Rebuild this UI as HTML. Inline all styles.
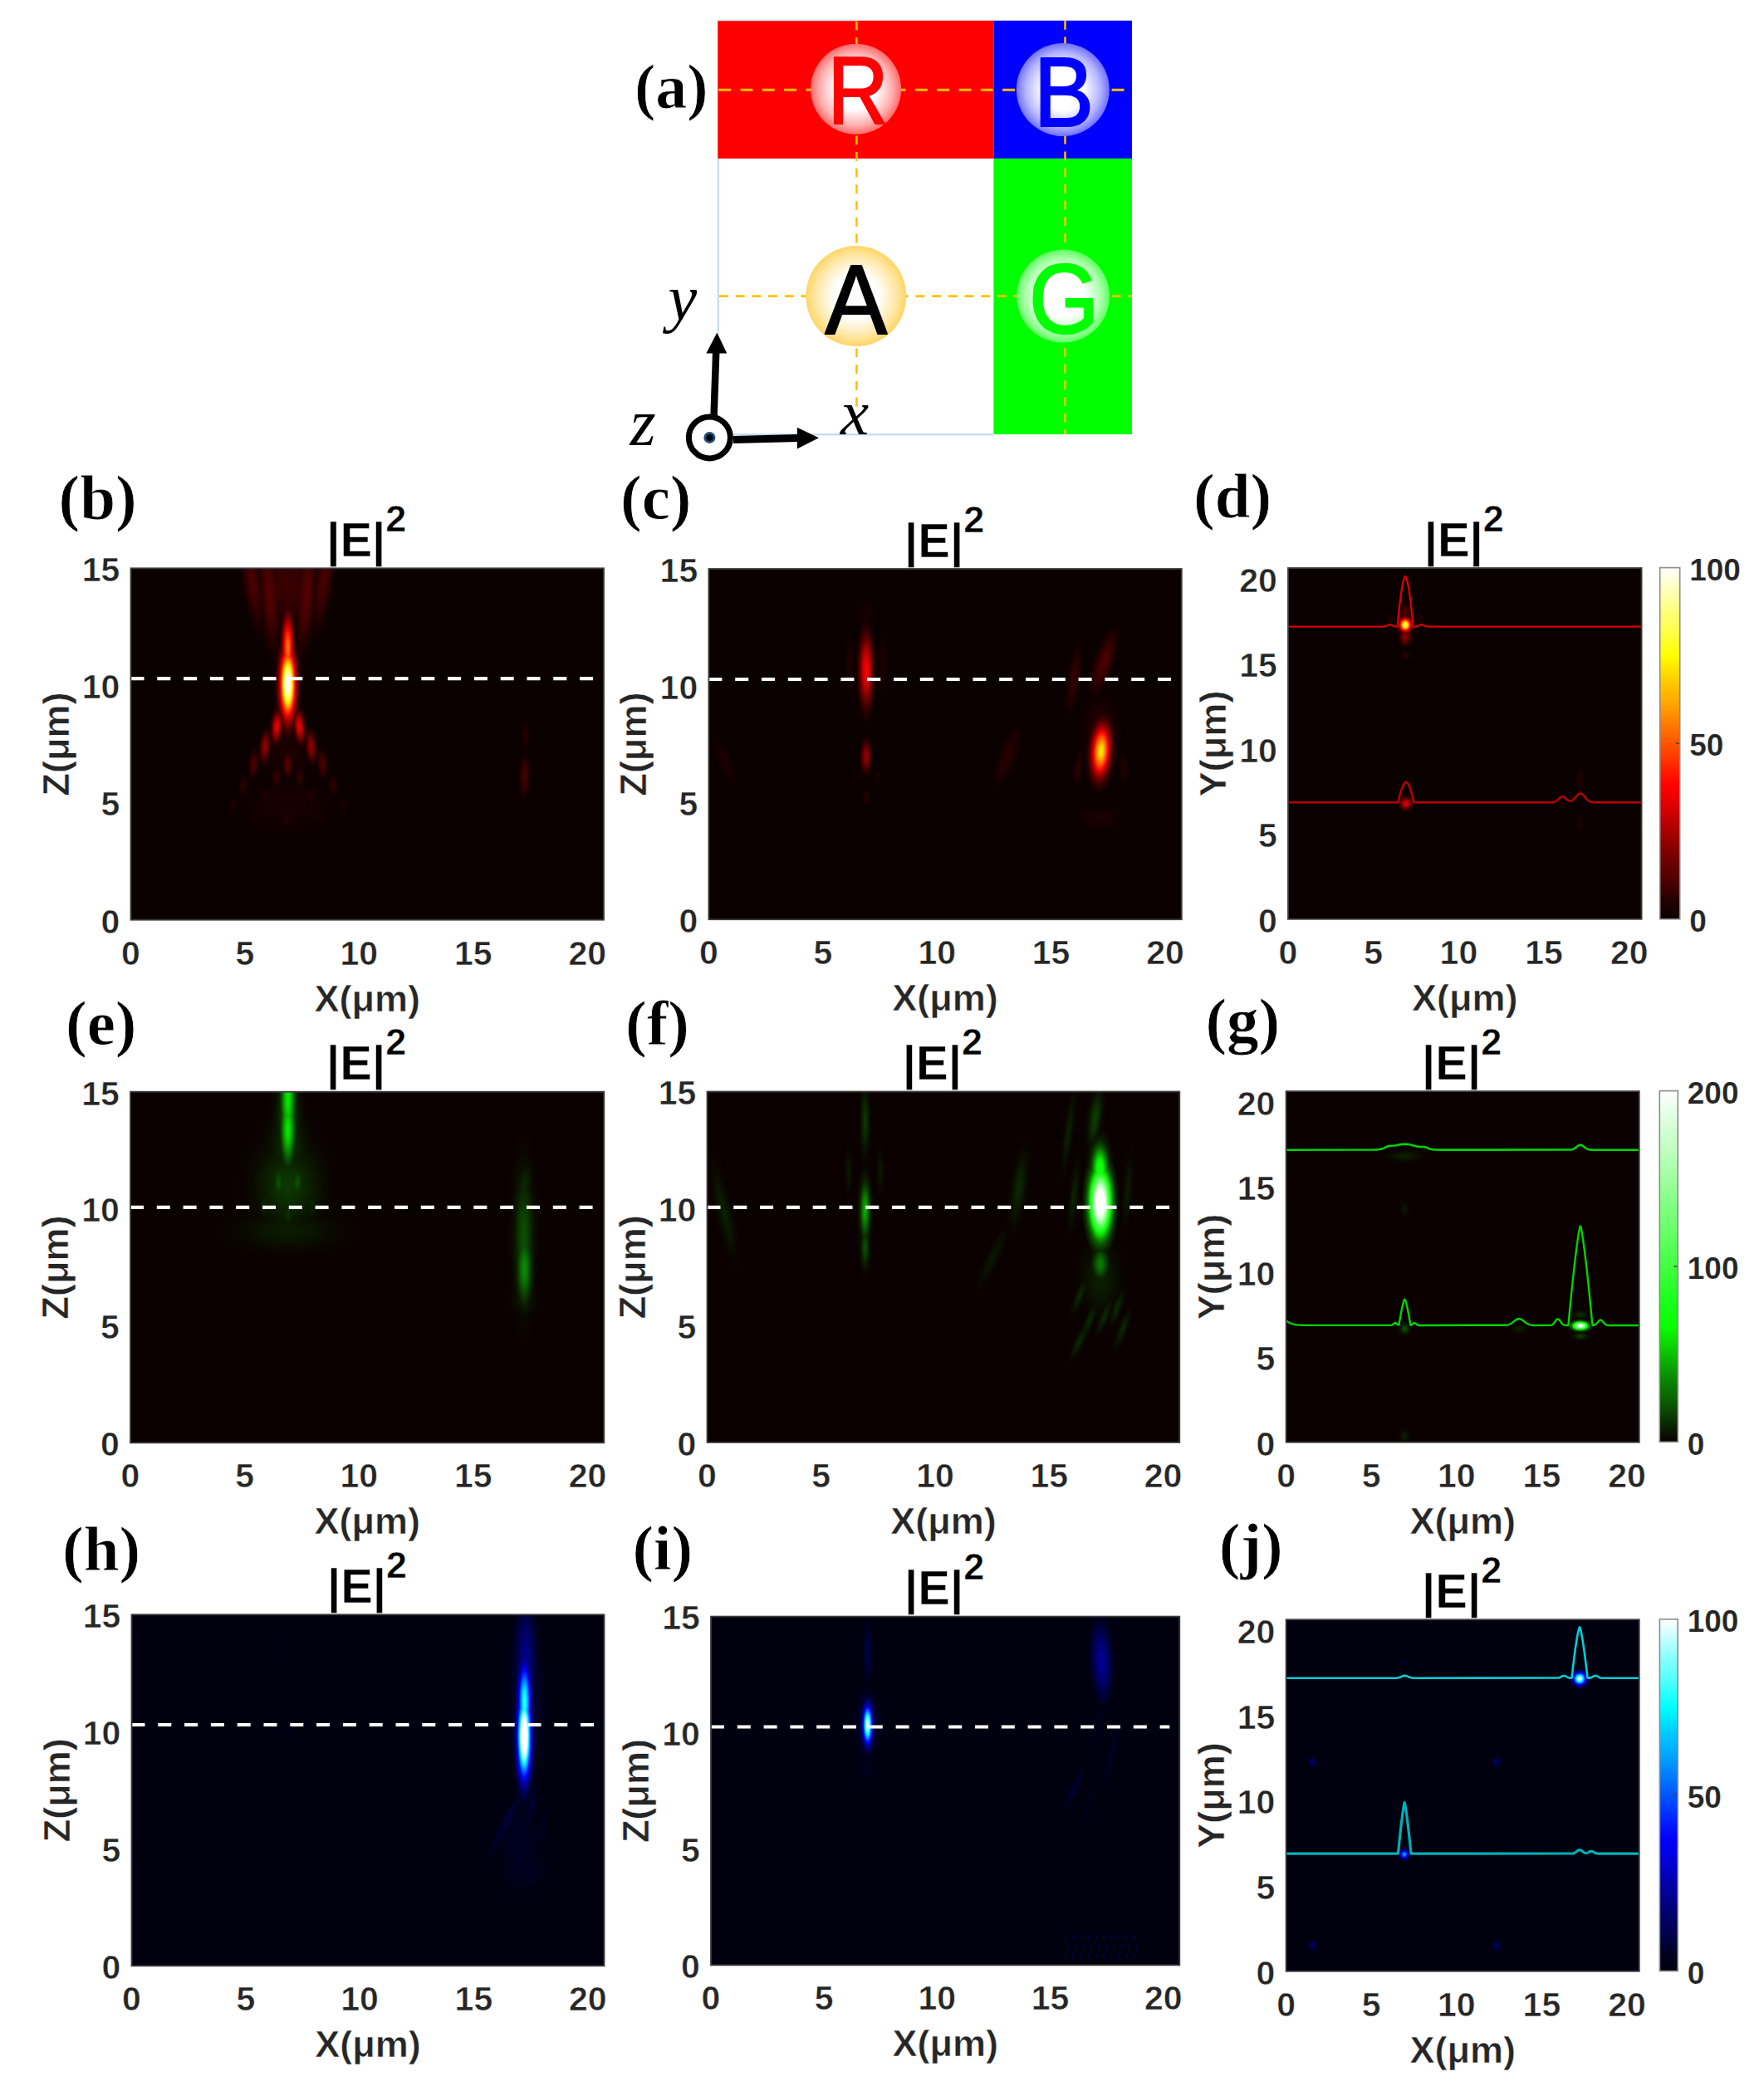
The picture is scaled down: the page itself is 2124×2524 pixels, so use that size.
<!DOCTYPE html>
<html lang="en"><head><meta charset="utf-8"><title>Figure</title>
<style>html,body{margin:0;padding:0;background:#fff}svg{display:block}.b{mix-blend-mode:lighten}</style></head>
<body><svg width="2124" height="2524" viewBox="0 0 2124 2524">
<rect width="2124" height="2524" fill="#fff"/>
<defs><radialGradient id="dR"><stop offset="0" stop-color="#fff"/><stop offset="0.45" stop-color="#fff"/><stop offset="0.8" stop-color="#ffb0b0"/><stop offset="1" stop-color="#ff6a6a"/></radialGradient>
<radialGradient id="dB"><stop offset="0" stop-color="#fff"/><stop offset="0.45" stop-color="#fff"/><stop offset="0.8" stop-color="#b4b4ff"/><stop offset="1" stop-color="#7070ff"/></radialGradient>
<radialGradient id="dG"><stop offset="0" stop-color="#fff"/><stop offset="0.45" stop-color="#fff"/><stop offset="0.8" stop-color="#b0ffb0"/><stop offset="1" stop-color="#60ff60"/></radialGradient>
<radialGradient id="dA"><stop offset="0" stop-color="#fff"/><stop offset="0.45" stop-color="#fff"/><stop offset="0.8" stop-color="#ffe7a6"/><stop offset="1" stop-color="#ffd566"/></radialGradient>
<radialGradient id="g1"><stop offset="0" stop-color="#3a0000"/><stop offset="0.07" stop-color="#380000"/><stop offset="0.14" stop-color="#350000"/><stop offset="0.21" stop-color="#2f0000"/><stop offset="0.29" stop-color="#280000"/><stop offset="0.36" stop-color="#210000"/><stop offset="0.43" stop-color="#190000"/><stop offset="0.5" stop-color="#130000"/><stop offset="0.57" stop-color="#0d0000"/><stop offset="0.64" stop-color="#0b0000"/><stop offset="0.71" stop-color="#0b0000"/><stop offset="0.79" stop-color="#0b0000"/><stop offset="0.86" stop-color="#0b0000"/><stop offset="0.93" stop-color="#0b0000"/><stop offset="1" stop-color="#0b0000"/></radialGradient>
<radialGradient id="g2"><stop offset="0" stop-color="#470000"/><stop offset="0.07" stop-color="#460000"/><stop offset="0.14" stop-color="#410000"/><stop offset="0.21" stop-color="#3a0000"/><stop offset="0.29" stop-color="#310000"/><stop offset="0.36" stop-color="#280000"/><stop offset="0.43" stop-color="#1f0000"/><stop offset="0.5" stop-color="#170000"/><stop offset="0.57" stop-color="#100000"/><stop offset="0.64" stop-color="#0b0000"/><stop offset="0.71" stop-color="#0b0000"/><stop offset="0.79" stop-color="#0b0000"/><stop offset="0.86" stop-color="#0b0000"/><stop offset="0.93" stop-color="#0b0000"/><stop offset="1" stop-color="#0b0000"/></radialGradient>
<radialGradient id="g3"><stop offset="0" stop-color="#550000"/><stop offset="0.07" stop-color="#530000"/><stop offset="0.14" stop-color="#4e0000"/><stop offset="0.21" stop-color="#450000"/><stop offset="0.29" stop-color="#3b0000"/><stop offset="0.36" stop-color="#300000"/><stop offset="0.43" stop-color="#250000"/><stop offset="0.5" stop-color="#1c0000"/><stop offset="0.57" stop-color="#140000"/><stop offset="0.64" stop-color="#0d0000"/><stop offset="0.71" stop-color="#0b0000"/><stop offset="0.79" stop-color="#0b0000"/><stop offset="0.86" stop-color="#0b0000"/><stop offset="0.93" stop-color="#0b0000"/><stop offset="1" stop-color="#0b0000"/></radialGradient>
<radialGradient id="g4"><stop offset="0" stop-color="#180000"/><stop offset="0.07" stop-color="#170000"/><stop offset="0.14" stop-color="#160000"/><stop offset="0.21" stop-color="#130000"/><stop offset="0.29" stop-color="#100000"/><stop offset="0.36" stop-color="#0d0000"/><stop offset="0.43" stop-color="#0b0000"/><stop offset="0.5" stop-color="#0b0000"/><stop offset="0.57" stop-color="#0b0000"/><stop offset="0.64" stop-color="#0b0000"/><stop offset="0.71" stop-color="#0b0000"/><stop offset="0.79" stop-color="#0b0000"/><stop offset="0.86" stop-color="#0b0000"/><stop offset="0.93" stop-color="#0b0000"/><stop offset="1" stop-color="#0b0000"/></radialGradient>
<radialGradient id="g5"><stop offset="0" stop-color="#1b0000"/><stop offset="0.07" stop-color="#1b0000"/><stop offset="0.14" stop-color="#190000"/><stop offset="0.21" stop-color="#160000"/><stop offset="0.29" stop-color="#130000"/><stop offset="0.36" stop-color="#0f0000"/><stop offset="0.43" stop-color="#0c0000"/><stop offset="0.5" stop-color="#0b0000"/><stop offset="0.57" stop-color="#0b0000"/><stop offset="0.64" stop-color="#0b0000"/><stop offset="0.71" stop-color="#0b0000"/><stop offset="0.79" stop-color="#0b0000"/><stop offset="0.86" stop-color="#0b0000"/><stop offset="0.93" stop-color="#0b0000"/><stop offset="1" stop-color="#0b0000"/></radialGradient>
<radialGradient id="g6"><stop offset="0" stop-color="#e70000"/><stop offset="0.07" stop-color="#e20000"/><stop offset="0.14" stop-color="#d30000"/><stop offset="0.21" stop-color="#bc0000"/><stop offset="0.29" stop-color="#a00000"/><stop offset="0.36" stop-color="#820000"/><stop offset="0.43" stop-color="#650000"/><stop offset="0.5" stop-color="#4b0000"/><stop offset="0.57" stop-color="#350000"/><stop offset="0.64" stop-color="#240000"/><stop offset="0.71" stop-color="#170000"/><stop offset="0.79" stop-color="#0e0000"/><stop offset="0.86" stop-color="#0b0000"/><stop offset="0.93" stop-color="#0b0000"/><stop offset="1" stop-color="#0b0000"/></radialGradient>
<radialGradient id="g7"><stop offset="0" stop-color="#8f0000"/><stop offset="0.07" stop-color="#8c0000"/><stop offset="0.14" stop-color="#820000"/><stop offset="0.21" stop-color="#740000"/><stop offset="0.29" stop-color="#630000"/><stop offset="0.36" stop-color="#500000"/><stop offset="0.43" stop-color="#3e0000"/><stop offset="0.5" stop-color="#2e0000"/><stop offset="0.57" stop-color="#210000"/><stop offset="0.64" stop-color="#160000"/><stop offset="0.71" stop-color="#0e0000"/><stop offset="0.79" stop-color="#0b0000"/><stop offset="0.86" stop-color="#0b0000"/><stop offset="0.93" stop-color="#0b0000"/><stop offset="1" stop-color="#0b0000"/></radialGradient>
<radialGradient id="g8"><stop offset="0" stop-color="#4b0000"/><stop offset="0.07" stop-color="#490000"/><stop offset="0.14" stop-color="#440000"/><stop offset="0.21" stop-color="#3d0000"/><stop offset="0.29" stop-color="#340000"/><stop offset="0.36" stop-color="#2a0000"/><stop offset="0.43" stop-color="#210000"/><stop offset="0.5" stop-color="#180000"/><stop offset="0.57" stop-color="#110000"/><stop offset="0.64" stop-color="#0c0000"/><stop offset="0.71" stop-color="#0b0000"/><stop offset="0.79" stop-color="#0b0000"/><stop offset="0.86" stop-color="#0b0000"/><stop offset="0.93" stop-color="#0b0000"/><stop offset="1" stop-color="#0b0000"/></radialGradient>
<radialGradient id="g9"><stop offset="0" stop-color="#290000"/><stop offset="0.07" stop-color="#280000"/><stop offset="0.14" stop-color="#250000"/><stop offset="0.21" stop-color="#210000"/><stop offset="0.29" stop-color="#1c0000"/><stop offset="0.36" stop-color="#170000"/><stop offset="0.43" stop-color="#120000"/><stop offset="0.5" stop-color="#0d0000"/><stop offset="0.57" stop-color="#0b0000"/><stop offset="0.64" stop-color="#0b0000"/><stop offset="0.71" stop-color="#0b0000"/><stop offset="0.79" stop-color="#0b0000"/><stop offset="0.86" stop-color="#0b0000"/><stop offset="0.93" stop-color="#0b0000"/><stop offset="1" stop-color="#0b0000"/></radialGradient>
<radialGradient id="g10"><stop offset="0" stop-color="#300000"/><stop offset="0.07" stop-color="#2f0000"/><stop offset="0.14" stop-color="#2b0000"/><stop offset="0.21" stop-color="#270000"/><stop offset="0.29" stop-color="#210000"/><stop offset="0.36" stop-color="#1b0000"/><stop offset="0.43" stop-color="#150000"/><stop offset="0.5" stop-color="#0f0000"/><stop offset="0.57" stop-color="#0b0000"/><stop offset="0.64" stop-color="#0b0000"/><stop offset="0.71" stop-color="#0b0000"/><stop offset="0.79" stop-color="#0b0000"/><stop offset="0.86" stop-color="#0b0000"/><stop offset="0.93" stop-color="#0b0000"/><stop offset="1" stop-color="#0b0000"/></radialGradient>
<radialGradient id="g11"><stop offset="0" stop-color="#220000"/><stop offset="0.07" stop-color="#210000"/><stop offset="0.14" stop-color="#1f0000"/><stop offset="0.21" stop-color="#1c0000"/><stop offset="0.29" stop-color="#180000"/><stop offset="0.36" stop-color="#130000"/><stop offset="0.43" stop-color="#0f0000"/><stop offset="0.5" stop-color="#0b0000"/><stop offset="0.57" stop-color="#0b0000"/><stop offset="0.64" stop-color="#0b0000"/><stop offset="0.71" stop-color="#0b0000"/><stop offset="0.79" stop-color="#0b0000"/><stop offset="0.86" stop-color="#0b0000"/><stop offset="0.93" stop-color="#0b0000"/><stop offset="1" stop-color="#0b0000"/></radialGradient>
<radialGradient id="g12"><stop offset="0" stop-color="#580000"/><stop offset="0.07" stop-color="#560000"/><stop offset="0.14" stop-color="#510000"/><stop offset="0.21" stop-color="#480000"/><stop offset="0.29" stop-color="#3d0000"/><stop offset="0.36" stop-color="#320000"/><stop offset="0.43" stop-color="#270000"/><stop offset="0.5" stop-color="#1d0000"/><stop offset="0.57" stop-color="#140000"/><stop offset="0.64" stop-color="#0e0000"/><stop offset="0.71" stop-color="#0b0000"/><stop offset="0.79" stop-color="#0b0000"/><stop offset="0.86" stop-color="#0b0000"/><stop offset="0.93" stop-color="#0b0000"/><stop offset="1" stop-color="#0b0000"/></radialGradient>
<radialGradient id="g13"><stop offset="0" stop-color="#880000"/><stop offset="0.07" stop-color="#850000"/><stop offset="0.14" stop-color="#7c0000"/><stop offset="0.21" stop-color="#6f0000"/><stop offset="0.29" stop-color="#5e0000"/><stop offset="0.36" stop-color="#4d0000"/><stop offset="0.43" stop-color="#3c0000"/><stop offset="0.5" stop-color="#2c0000"/><stop offset="0.57" stop-color="#1f0000"/><stop offset="0.64" stop-color="#150000"/><stop offset="0.71" stop-color="#0e0000"/><stop offset="0.79" stop-color="#0b0000"/><stop offset="0.86" stop-color="#0b0000"/><stop offset="0.93" stop-color="#0b0000"/><stop offset="1" stop-color="#0b0000"/></radialGradient>
<radialGradient id="g14"><stop offset="0" stop-color="#ff7700"/><stop offset="0.07" stop-color="#ff6f00"/><stop offset="0.14" stop-color="#ff5600"/><stop offset="0.21" stop-color="#ff3100"/><stop offset="0.29" stop-color="#ff0400"/><stop offset="0.36" stop-color="#d30000"/><stop offset="0.43" stop-color="#a40000"/><stop offset="0.5" stop-color="#790000"/><stop offset="0.57" stop-color="#560000"/><stop offset="0.64" stop-color="#3a0000"/><stop offset="0.71" stop-color="#260000"/><stop offset="0.79" stop-color="#170000"/><stop offset="0.86" stop-color="#0e0000"/><stop offset="0.93" stop-color="#0b0000"/><stop offset="1" stop-color="#0b0000"/></radialGradient>
<radialGradient id="g15"><stop offset="0" stop-color="#ffffff"/><stop offset="0.07" stop-color="#ffffff"/><stop offset="0.14" stop-color="#ffffdd"/><stop offset="0.21" stop-color="#ffff72"/><stop offset="0.29" stop-color="#fff400"/><stop offset="0.36" stop-color="#ff9700"/><stop offset="0.43" stop-color="#ff3c00"/><stop offset="0.5" stop-color="#ea0000"/><stop offset="0.57" stop-color="#a60000"/><stop offset="0.64" stop-color="#700000"/><stop offset="0.71" stop-color="#490000"/><stop offset="0.79" stop-color="#2d0000"/><stop offset="0.86" stop-color="#1a0000"/><stop offset="0.93" stop-color="#0f0000"/><stop offset="1" stop-color="#0b0000"/></radialGradient>
<radialGradient id="g16"><stop offset="0" stop-color="#440000"/><stop offset="0.07" stop-color="#420000"/><stop offset="0.14" stop-color="#3e0000"/><stop offset="0.21" stop-color="#370000"/><stop offset="0.29" stop-color="#2f0000"/><stop offset="0.36" stop-color="#260000"/><stop offset="0.43" stop-color="#1e0000"/><stop offset="0.5" stop-color="#160000"/><stop offset="0.57" stop-color="#100000"/><stop offset="0.64" stop-color="#0b0000"/><stop offset="0.71" stop-color="#0b0000"/><stop offset="0.79" stop-color="#0b0000"/><stop offset="0.86" stop-color="#0b0000"/><stop offset="0.93" stop-color="#0b0000"/><stop offset="1" stop-color="#0b0000"/></radialGradient>
<clipPath id="c1"><rect x="157.5" y="684.3" width="569.5" height="423.4"/></clipPath>
<radialGradient id="g17"><stop offset="0" stop-color="#1f0000"/><stop offset="0.07" stop-color="#1e0000"/><stop offset="0.14" stop-color="#1c0000"/><stop offset="0.21" stop-color="#190000"/><stop offset="0.29" stop-color="#150000"/><stop offset="0.36" stop-color="#110000"/><stop offset="0.43" stop-color="#0d0000"/><stop offset="0.5" stop-color="#0b0000"/><stop offset="0.57" stop-color="#0b0000"/><stop offset="0.64" stop-color="#0b0000"/><stop offset="0.71" stop-color="#0b0000"/><stop offset="0.79" stop-color="#0b0000"/><stop offset="0.86" stop-color="#0b0000"/><stop offset="0.93" stop-color="#0b0000"/><stop offset="1" stop-color="#0b0000"/></radialGradient>
<radialGradient id="g18"><stop offset="0" stop-color="#140000"/><stop offset="0.07" stop-color="#140000"/><stop offset="0.14" stop-color="#130000"/><stop offset="0.21" stop-color="#110000"/><stop offset="0.29" stop-color="#0e0000"/><stop offset="0.36" stop-color="#0b0000"/><stop offset="0.43" stop-color="#0b0000"/><stop offset="0.5" stop-color="#0b0000"/><stop offset="0.57" stop-color="#0b0000"/><stop offset="0.64" stop-color="#0b0000"/><stop offset="0.71" stop-color="#0b0000"/><stop offset="0.79" stop-color="#0b0000"/><stop offset="0.86" stop-color="#0b0000"/><stop offset="0.93" stop-color="#0b0000"/><stop offset="1" stop-color="#0b0000"/></radialGradient>
<radialGradient id="g19"><stop offset="0" stop-color="#fc0000"/><stop offset="0.07" stop-color="#f60000"/><stop offset="0.14" stop-color="#e60000"/><stop offset="0.21" stop-color="#cd0000"/><stop offset="0.29" stop-color="#ae0000"/><stop offset="0.36" stop-color="#8e0000"/><stop offset="0.43" stop-color="#6e0000"/><stop offset="0.5" stop-color="#520000"/><stop offset="0.57" stop-color="#3a0000"/><stop offset="0.64" stop-color="#270000"/><stop offset="0.71" stop-color="#190000"/><stop offset="0.79" stop-color="#100000"/><stop offset="0.86" stop-color="#0b0000"/><stop offset="0.93" stop-color="#0b0000"/><stop offset="1" stop-color="#0b0000"/></radialGradient>
<radialGradient id="g20"><stop offset="0" stop-color="#960000"/><stop offset="0.07" stop-color="#920000"/><stop offset="0.14" stop-color="#880000"/><stop offset="0.21" stop-color="#7a0000"/><stop offset="0.29" stop-color="#680000"/><stop offset="0.36" stop-color="#540000"/><stop offset="0.43" stop-color="#410000"/><stop offset="0.5" stop-color="#310000"/><stop offset="0.57" stop-color="#220000"/><stop offset="0.64" stop-color="#170000"/><stop offset="0.71" stop-color="#0f0000"/><stop offset="0.79" stop-color="#0b0000"/><stop offset="0.86" stop-color="#0b0000"/><stop offset="0.93" stop-color="#0b0000"/><stop offset="1" stop-color="#0b0000"/></radialGradient>
<radialGradient id="g21"><stop offset="0" stop-color="#330000"/><stop offset="0.07" stop-color="#320000"/><stop offset="0.14" stop-color="#2f0000"/><stop offset="0.21" stop-color="#290000"/><stop offset="0.29" stop-color="#230000"/><stop offset="0.36" stop-color="#1d0000"/><stop offset="0.43" stop-color="#160000"/><stop offset="0.5" stop-color="#110000"/><stop offset="0.57" stop-color="#0c0000"/><stop offset="0.64" stop-color="#0b0000"/><stop offset="0.71" stop-color="#0b0000"/><stop offset="0.79" stop-color="#0b0000"/><stop offset="0.86" stop-color="#0b0000"/><stop offset="0.93" stop-color="#0b0000"/><stop offset="1" stop-color="#0b0000"/></radialGradient>
<radialGradient id="g22"><stop offset="0" stop-color="#ffeb00"/><stop offset="0.07" stop-color="#ffdf00"/><stop offset="0.14" stop-color="#ffc000"/><stop offset="0.21" stop-color="#ff8f00"/><stop offset="0.29" stop-color="#ff5400"/><stop offset="0.36" stop-color="#ff1500"/><stop offset="0.43" stop-color="#d60000"/><stop offset="0.5" stop-color="#9f0000"/><stop offset="0.57" stop-color="#710000"/><stop offset="0.64" stop-color="#4c0000"/><stop offset="0.71" stop-color="#310000"/><stop offset="0.79" stop-color="#1e0000"/><stop offset="0.86" stop-color="#120000"/><stop offset="0.93" stop-color="#0b0000"/><stop offset="1" stop-color="#0b0000"/></radialGradient>
<clipPath id="c2"><rect x="853.4" y="685" width="569.4" height="422.2"/></clipPath>
<radialGradient id="g23"><stop offset="0" stop-color="#250000"/><stop offset="0.07" stop-color="#250000"/><stop offset="0.14" stop-color="#220000"/><stop offset="0.21" stop-color="#1e0000"/><stop offset="0.29" stop-color="#1a0000"/><stop offset="0.36" stop-color="#150000"/><stop offset="0.43" stop-color="#100000"/><stop offset="0.5" stop-color="#0c0000"/><stop offset="0.57" stop-color="#0b0000"/><stop offset="0.64" stop-color="#0b0000"/><stop offset="0.71" stop-color="#0b0000"/><stop offset="0.79" stop-color="#0b0000"/><stop offset="0.86" stop-color="#0b0000"/><stop offset="0.93" stop-color="#0b0000"/><stop offset="1" stop-color="#0b0000"/></radialGradient>
<radialGradient id="g24"><stop offset="0" stop-color="#520000"/><stop offset="0.07" stop-color="#500000"/><stop offset="0.14" stop-color="#4a0000"/><stop offset="0.21" stop-color="#420000"/><stop offset="0.29" stop-color="#390000"/><stop offset="0.36" stop-color="#2e0000"/><stop offset="0.43" stop-color="#240000"/><stop offset="0.5" stop-color="#1a0000"/><stop offset="0.57" stop-color="#130000"/><stop offset="0.64" stop-color="#0d0000"/><stop offset="0.71" stop-color="#0b0000"/><stop offset="0.79" stop-color="#0b0000"/><stop offset="0.86" stop-color="#0b0000"/><stop offset="0.93" stop-color="#0b0000"/><stop offset="1" stop-color="#0b0000"/></radialGradient>
<radialGradient id="g25"><stop offset="0" stop-color="#da0000"/><stop offset="0.07" stop-color="#d50000"/><stop offset="0.14" stop-color="#c70000"/><stop offset="0.21" stop-color="#b10000"/><stop offset="0.29" stop-color="#970000"/><stop offset="0.36" stop-color="#7b0000"/><stop offset="0.43" stop-color="#5f0000"/><stop offset="0.5" stop-color="#470000"/><stop offset="0.57" stop-color="#320000"/><stop offset="0.64" stop-color="#220000"/><stop offset="0.71" stop-color="#160000"/><stop offset="0.79" stop-color="#0e0000"/><stop offset="0.86" stop-color="#0b0000"/><stop offset="0.93" stop-color="#0b0000"/><stop offset="1" stop-color="#0b0000"/></radialGradient>
<radialGradient id="g26"><stop offset="0" stop-color="#ffff70"/><stop offset="0.07" stop-color="#ffff5c"/><stop offset="0.14" stop-color="#ffff23"/><stop offset="0.21" stop-color="#ffdd00"/><stop offset="0.29" stop-color="#ff9600"/><stop offset="0.36" stop-color="#ff4a00"/><stop offset="0.43" stop-color="#ff0100"/><stop offset="0.5" stop-color="#be0000"/><stop offset="0.57" stop-color="#870000"/><stop offset="0.64" stop-color="#5b0000"/><stop offset="0.71" stop-color="#3b0000"/><stop offset="0.79" stop-color="#240000"/><stop offset="0.86" stop-color="#150000"/><stop offset="0.93" stop-color="#0c0000"/><stop offset="1" stop-color="#0b0000"/></radialGradient>
<clipPath id="c3"><rect x="1551" y="684" width="425.6" height="422.8"/></clipPath>
<radialGradient id="g27"><stop offset="0" stop-color="#0a3600"/><stop offset="0.07" stop-color="#0a3500"/><stop offset="0.14" stop-color="#0a3100"/><stop offset="0.21" stop-color="#0a2c00"/><stop offset="0.29" stop-color="#0a2500"/><stop offset="0.36" stop-color="#0a1e00"/><stop offset="0.43" stop-color="#0a1800"/><stop offset="0.5" stop-color="#0a1200"/><stop offset="0.57" stop-color="#0a0c00"/><stop offset="0.64" stop-color="#0a0800"/><stop offset="0.71" stop-color="#0a0500"/><stop offset="0.79" stop-color="#0a0300"/><stop offset="0.86" stop-color="#0a0200"/><stop offset="0.93" stop-color="#0a0100"/><stop offset="1" stop-color="#0a0000"/></radialGradient>
<radialGradient id="g28"><stop offset="0" stop-color="#0a1b00"/><stop offset="0.07" stop-color="#0a1a00"/><stop offset="0.14" stop-color="#0a1900"/><stop offset="0.21" stop-color="#0a1600"/><stop offset="0.29" stop-color="#0a1300"/><stop offset="0.36" stop-color="#0a0f00"/><stop offset="0.43" stop-color="#0a0c00"/><stop offset="0.5" stop-color="#0a0900"/><stop offset="0.57" stop-color="#0a0600"/><stop offset="0.64" stop-color="#0a0400"/><stop offset="0.71" stop-color="#0a0300"/><stop offset="0.79" stop-color="#0a0200"/><stop offset="0.86" stop-color="#0a0100"/><stop offset="0.93" stop-color="#0a0100"/><stop offset="1" stop-color="#0a0000"/></radialGradient>
<radialGradient id="g29"><stop offset="0" stop-color="#0a2e00"/><stop offset="0.07" stop-color="#0a2d00"/><stop offset="0.14" stop-color="#0a2a00"/><stop offset="0.21" stop-color="#0a2600"/><stop offset="0.29" stop-color="#0a2000"/><stop offset="0.36" stop-color="#0a1a00"/><stop offset="0.43" stop-color="#0a1400"/><stop offset="0.5" stop-color="#0a0f00"/><stop offset="0.57" stop-color="#0a0b00"/><stop offset="0.64" stop-color="#0a0700"/><stop offset="0.71" stop-color="#0a0500"/><stop offset="0.79" stop-color="#0a0300"/><stop offset="0.86" stop-color="#0a0200"/><stop offset="0.93" stop-color="#0a0100"/><stop offset="1" stop-color="#0a0000"/></radialGradient>
<radialGradient id="g30"><stop offset="0" stop-color="#0a4d00"/><stop offset="0.07" stop-color="#0a4c00"/><stop offset="0.14" stop-color="#0a4600"/><stop offset="0.21" stop-color="#0a3f00"/><stop offset="0.29" stop-color="#0a3600"/><stop offset="0.36" stop-color="#0a2c00"/><stop offset="0.43" stop-color="#0a2200"/><stop offset="0.5" stop-color="#0a1900"/><stop offset="0.57" stop-color="#0a1200"/><stop offset="0.64" stop-color="#0a0c00"/><stop offset="0.71" stop-color="#0a0800"/><stop offset="0.79" stop-color="#0a0500"/><stop offset="0.86" stop-color="#0a0300"/><stop offset="0.93" stop-color="#0a0200"/><stop offset="1" stop-color="#0a0000"/></radialGradient>
<radialGradient id="g31"><stop offset="0" stop-color="#0a2300"/><stop offset="0.07" stop-color="#0a2200"/><stop offset="0.14" stop-color="#0a2000"/><stop offset="0.21" stop-color="#0a1c00"/><stop offset="0.29" stop-color="#0a1800"/><stop offset="0.36" stop-color="#0a1400"/><stop offset="0.43" stop-color="#0a0f00"/><stop offset="0.5" stop-color="#0a0b00"/><stop offset="0.57" stop-color="#0a0800"/><stop offset="0.64" stop-color="#0a0500"/><stop offset="0.71" stop-color="#0a0400"/><stop offset="0.79" stop-color="#0a0200"/><stop offset="0.86" stop-color="#0a0100"/><stop offset="0.93" stop-color="#0a0100"/><stop offset="1" stop-color="#0a0000"/></radialGradient>
<radialGradient id="g32"><stop offset="0" stop-color="#0a6400"/><stop offset="0.07" stop-color="#0a6200"/><stop offset="0.14" stop-color="#0a5c00"/><stop offset="0.21" stop-color="#0a5200"/><stop offset="0.29" stop-color="#0a4600"/><stop offset="0.36" stop-color="#0a3900"/><stop offset="0.43" stop-color="#0a2c00"/><stop offset="0.5" stop-color="#0a2100"/><stop offset="0.57" stop-color="#0a1700"/><stop offset="0.64" stop-color="#0a1000"/><stop offset="0.71" stop-color="#0a0a00"/><stop offset="0.79" stop-color="#0a0600"/><stop offset="0.86" stop-color="#0a0400"/><stop offset="0.93" stop-color="#0a0200"/><stop offset="1" stop-color="#0a0000"/></radialGradient>
<radialGradient id="g33"><stop offset="0" stop-color="#0ae800"/><stop offset="0.07" stop-color="#0ae300"/><stop offset="0.14" stop-color="#0ad300"/><stop offset="0.21" stop-color="#0abd00"/><stop offset="0.29" stop-color="#0aa100"/><stop offset="0.36" stop-color="#0a8300"/><stop offset="0.43" stop-color="#0a6500"/><stop offset="0.5" stop-color="#0a4b00"/><stop offset="0.57" stop-color="#0a3500"/><stop offset="0.64" stop-color="#0a2400"/><stop offset="0.71" stop-color="#0a1700"/><stop offset="0.79" stop-color="#0a0e00"/><stop offset="0.86" stop-color="#0a0800"/><stop offset="0.93" stop-color="#0a0500"/><stop offset="1" stop-color="#0a0000"/></radialGradient>
<radialGradient id="g34"><stop offset="0" stop-color="#0a8b00"/><stop offset="0.07" stop-color="#0a8800"/><stop offset="0.14" stop-color="#0a7f00"/><stop offset="0.21" stop-color="#0a7100"/><stop offset="0.29" stop-color="#0a6000"/><stop offset="0.36" stop-color="#0a4e00"/><stop offset="0.43" stop-color="#0a3d00"/><stop offset="0.5" stop-color="#0a2d00"/><stop offset="0.57" stop-color="#0a2000"/><stop offset="0.64" stop-color="#0a1600"/><stop offset="0.71" stop-color="#0a0e00"/><stop offset="0.79" stop-color="#0a0900"/><stop offset="0.86" stop-color="#0a0500"/><stop offset="0.93" stop-color="#0a0300"/><stop offset="1" stop-color="#0a0000"/></radialGradient>
<radialGradient id="g35"><stop offset="0" stop-color="#0a2700"/><stop offset="0.07" stop-color="#0a2600"/><stop offset="0.14" stop-color="#0a2300"/><stop offset="0.21" stop-color="#0a1f00"/><stop offset="0.29" stop-color="#0a1b00"/><stop offset="0.36" stop-color="#0a1600"/><stop offset="0.43" stop-color="#0a1100"/><stop offset="0.5" stop-color="#0a0d00"/><stop offset="0.57" stop-color="#0a0900"/><stop offset="0.64" stop-color="#0a0600"/><stop offset="0.71" stop-color="#0a0400"/><stop offset="0.79" stop-color="#0a0200"/><stop offset="0.86" stop-color="#0a0100"/><stop offset="0.93" stop-color="#0a0100"/><stop offset="1" stop-color="#0a0000"/></radialGradient>
<radialGradient id="g36"><stop offset="0" stop-color="#0a1700"/><stop offset="0.07" stop-color="#0a1700"/><stop offset="0.14" stop-color="#0a1500"/><stop offset="0.21" stop-color="#0a1300"/><stop offset="0.29" stop-color="#0a1000"/><stop offset="0.36" stop-color="#0a0d00"/><stop offset="0.43" stop-color="#0a0a00"/><stop offset="0.5" stop-color="#0a0800"/><stop offset="0.57" stop-color="#0a0500"/><stop offset="0.64" stop-color="#0a0400"/><stop offset="0.71" stop-color="#0a0200"/><stop offset="0.79" stop-color="#0a0100"/><stop offset="0.86" stop-color="#0a0100"/><stop offset="0.93" stop-color="#0a0000"/><stop offset="1" stop-color="#0a0000"/></radialGradient>
<clipPath id="c4"><rect x="157" y="1314.7" width="570.3" height="422.7"/></clipPath>
<radialGradient id="g37"><stop offset="0" stop-color="#0aaa00"/><stop offset="0.07" stop-color="#0aa600"/><stop offset="0.14" stop-color="#0a9b00"/><stop offset="0.21" stop-color="#0a8a00"/><stop offset="0.29" stop-color="#0a7600"/><stop offset="0.36" stop-color="#0a6000"/><stop offset="0.43" stop-color="#0a4a00"/><stop offset="0.5" stop-color="#0a3700"/><stop offset="0.57" stop-color="#0a2700"/><stop offset="0.64" stop-color="#0a1a00"/><stop offset="0.71" stop-color="#0a1100"/><stop offset="0.79" stop-color="#0a0b00"/><stop offset="0.86" stop-color="#0a0600"/><stop offset="0.93" stop-color="#0a0400"/><stop offset="1" stop-color="#0a0000"/></radialGradient>
<radialGradient id="g38"><stop offset="0" stop-color="#0a3e00"/><stop offset="0.07" stop-color="#0a3c00"/><stop offset="0.14" stop-color="#0a3800"/><stop offset="0.21" stop-color="#0a3200"/><stop offset="0.29" stop-color="#0a2b00"/><stop offset="0.36" stop-color="#0a2300"/><stop offset="0.43" stop-color="#0a1b00"/><stop offset="0.5" stop-color="#0a1400"/><stop offset="0.57" stop-color="#0a0e00"/><stop offset="0.64" stop-color="#0a0a00"/><stop offset="0.71" stop-color="#0a0600"/><stop offset="0.79" stop-color="#0a0400"/><stop offset="0.86" stop-color="#0a0200"/><stop offset="0.93" stop-color="#0a0100"/><stop offset="1" stop-color="#0a0000"/></radialGradient>
<radialGradient id="g39"><stop offset="0" stop-color="#0a1f00"/><stop offset="0.07" stop-color="#0a1e00"/><stop offset="0.14" stop-color="#0a1c00"/><stop offset="0.21" stop-color="#0a1900"/><stop offset="0.29" stop-color="#0a1500"/><stop offset="0.36" stop-color="#0a1100"/><stop offset="0.43" stop-color="#0a0e00"/><stop offset="0.5" stop-color="#0a0a00"/><stop offset="0.57" stop-color="#0a0700"/><stop offset="0.64" stop-color="#0a0500"/><stop offset="0.71" stop-color="#0a0300"/><stop offset="0.79" stop-color="#0a0200"/><stop offset="0.86" stop-color="#0a0100"/><stop offset="0.93" stop-color="#0a0100"/><stop offset="1" stop-color="#0a0000"/></radialGradient>
<radialGradient id="g40"><stop offset="0" stop-color="#0a7c00"/><stop offset="0.07" stop-color="#0a7900"/><stop offset="0.14" stop-color="#0a7100"/><stop offset="0.21" stop-color="#0a6500"/><stop offset="0.29" stop-color="#0a5600"/><stop offset="0.36" stop-color="#0a4600"/><stop offset="0.43" stop-color="#0a3600"/><stop offset="0.5" stop-color="#0a2800"/><stop offset="0.57" stop-color="#0a1c00"/><stop offset="0.64" stop-color="#0a1300"/><stop offset="0.71" stop-color="#0a0c00"/><stop offset="0.79" stop-color="#0a0800"/><stop offset="0.86" stop-color="#0a0500"/><stop offset="0.93" stop-color="#0a0300"/><stop offset="1" stop-color="#0a0000"/></radialGradient>
<radialGradient id="g41"><stop offset="0" stop-color="#1bff1b"/><stop offset="0.07" stop-color="#17ff17"/><stop offset="0.14" stop-color="#0dff0d"/><stop offset="0.21" stop-color="#0afb00"/><stop offset="0.29" stop-color="#0ad600"/><stop offset="0.36" stop-color="#0aae00"/><stop offset="0.43" stop-color="#0a8700"/><stop offset="0.5" stop-color="#0a6400"/><stop offset="0.57" stop-color="#0a4700"/><stop offset="0.64" stop-color="#0a3000"/><stop offset="0.71" stop-color="#0a1f00"/><stop offset="0.79" stop-color="#0a1300"/><stop offset="0.86" stop-color="#0a0b00"/><stop offset="0.93" stop-color="#0a0600"/><stop offset="1" stop-color="#0a0000"/></radialGradient>
<radialGradient id="g42"><stop offset="0" stop-color="#ffffff"/><stop offset="0.07" stop-color="#ffffff"/><stop offset="0.14" stop-color="#ffffff"/><stop offset="0.21" stop-color="#ffffff"/><stop offset="0.29" stop-color="#ccffcc"/><stop offset="0.36" stop-color="#8eff8e"/><stop offset="0.43" stop-color="#53ff53"/><stop offset="0.5" stop-color="#1dff1d"/><stop offset="0.57" stop-color="#0ade00"/><stop offset="0.64" stop-color="#0a9600"/><stop offset="0.71" stop-color="#0a6100"/><stop offset="0.79" stop-color="#0a3c00"/><stop offset="0.86" stop-color="#0a2300"/><stop offset="0.93" stop-color="#0a1400"/><stop offset="1" stop-color="#0a0000"/></radialGradient>
<clipPath id="c5"><rect x="851.5" y="1314.5" width="568.8" height="422.5"/></clipPath>
<radialGradient id="g43"><stop offset="0" stop-color="#ffffff"/><stop offset="0.07" stop-color="#f6fff6"/><stop offset="0.14" stop-color="#deffde"/><stop offset="0.21" stop-color="#b8ffb8"/><stop offset="0.29" stop-color="#8aff8a"/><stop offset="0.36" stop-color="#59ff59"/><stop offset="0.43" stop-color="#29ff29"/><stop offset="0.5" stop-color="#0afb00"/><stop offset="0.57" stop-color="#0ab200"/><stop offset="0.64" stop-color="#0a7800"/><stop offset="0.71" stop-color="#0a4e00"/><stop offset="0.79" stop-color="#0a3000"/><stop offset="0.86" stop-color="#0a1c00"/><stop offset="0.93" stop-color="#0a1000"/><stop offset="1" stop-color="#0a0000"/></radialGradient>
<clipPath id="c6"><rect x="1548.6" y="1314.1" width="425.2" height="422.7"/></clipPath>
<radialGradient id="g44"><stop offset="0" stop-color="#00001b"/><stop offset="0.07" stop-color="#00001b"/><stop offset="0.14" stop-color="#000019"/><stop offset="0.21" stop-color="#000016"/><stop offset="0.29" stop-color="#000013"/><stop offset="0.36" stop-color="#00000f"/><stop offset="0.43" stop-color="#00000e"/><stop offset="0.5" stop-color="#00000e"/><stop offset="0.57" stop-color="#00000e"/><stop offset="0.64" stop-color="#00000e"/><stop offset="0.71" stop-color="#00000e"/><stop offset="0.79" stop-color="#00000e"/><stop offset="0.86" stop-color="#00000e"/><stop offset="0.93" stop-color="#00000e"/><stop offset="1" stop-color="#00000e"/></radialGradient>
<radialGradient id="g45"><stop offset="0" stop-color="#000011"/><stop offset="0.07" stop-color="#000011"/><stop offset="0.14" stop-color="#000010"/><stop offset="0.21" stop-color="#00000e"/><stop offset="0.29" stop-color="#00000e"/><stop offset="0.36" stop-color="#00000e"/><stop offset="0.43" stop-color="#00000e"/><stop offset="0.5" stop-color="#00000e"/><stop offset="0.57" stop-color="#00000e"/><stop offset="0.64" stop-color="#00000e"/><stop offset="0.71" stop-color="#00000e"/><stop offset="0.79" stop-color="#00000e"/><stop offset="0.86" stop-color="#00000e"/><stop offset="0.93" stop-color="#00000e"/><stop offset="1" stop-color="#00000e"/></radialGradient>
<radialGradient id="g46"><stop offset="0" stop-color="#000022"/><stop offset="0.07" stop-color="#000021"/><stop offset="0.14" stop-color="#00001f"/><stop offset="0.21" stop-color="#00001c"/><stop offset="0.29" stop-color="#000018"/><stop offset="0.36" stop-color="#000013"/><stop offset="0.43" stop-color="#00000f"/><stop offset="0.5" stop-color="#00000e"/><stop offset="0.57" stop-color="#00000e"/><stop offset="0.64" stop-color="#00000e"/><stop offset="0.71" stop-color="#00000e"/><stop offset="0.79" stop-color="#00000e"/><stop offset="0.86" stop-color="#00000e"/><stop offset="0.93" stop-color="#00000e"/><stop offset="1" stop-color="#00000e"/></radialGradient>
<radialGradient id="g47"><stop offset="0" stop-color="#000044"/><stop offset="0.07" stop-color="#000042"/><stop offset="0.14" stop-color="#00003e"/><stop offset="0.21" stop-color="#000037"/><stop offset="0.29" stop-color="#00002f"/><stop offset="0.36" stop-color="#000026"/><stop offset="0.43" stop-color="#00001e"/><stop offset="0.5" stop-color="#000016"/><stop offset="0.57" stop-color="#000010"/><stop offset="0.64" stop-color="#00000e"/><stop offset="0.71" stop-color="#00000e"/><stop offset="0.79" stop-color="#00000e"/><stop offset="0.86" stop-color="#00000e"/><stop offset="0.93" stop-color="#00000e"/><stop offset="1" stop-color="#00000e"/></radialGradient>
<radialGradient id="g48"><stop offset="0" stop-color="#000088"/><stop offset="0.07" stop-color="#000085"/><stop offset="0.14" stop-color="#00007c"/><stop offset="0.21" stop-color="#00006f"/><stop offset="0.29" stop-color="#00005e"/><stop offset="0.36" stop-color="#00004d"/><stop offset="0.43" stop-color="#00003c"/><stop offset="0.5" stop-color="#00002c"/><stop offset="0.57" stop-color="#00001f"/><stop offset="0.64" stop-color="#000015"/><stop offset="0.71" stop-color="#00000e"/><stop offset="0.79" stop-color="#00000e"/><stop offset="0.86" stop-color="#00000e"/><stop offset="0.93" stop-color="#00000e"/><stop offset="1" stop-color="#00000e"/></radialGradient>
<radialGradient id="g49"><stop offset="0" stop-color="#00001f"/><stop offset="0.07" stop-color="#00001e"/><stop offset="0.14" stop-color="#00001c"/><stop offset="0.21" stop-color="#000019"/><stop offset="0.29" stop-color="#000015"/><stop offset="0.36" stop-color="#000011"/><stop offset="0.43" stop-color="#00000e"/><stop offset="0.5" stop-color="#00000e"/><stop offset="0.57" stop-color="#00000e"/><stop offset="0.64" stop-color="#00000e"/><stop offset="0.71" stop-color="#00000e"/><stop offset="0.79" stop-color="#00000e"/><stop offset="0.86" stop-color="#00000e"/><stop offset="0.93" stop-color="#00000e"/><stop offset="1" stop-color="#00000e"/></radialGradient>
<radialGradient id="g50"><stop offset="0" stop-color="#00003a"/><stop offset="0.07" stop-color="#000038"/><stop offset="0.14" stop-color="#000035"/><stop offset="0.21" stop-color="#00002f"/><stop offset="0.29" stop-color="#000028"/><stop offset="0.36" stop-color="#000021"/><stop offset="0.43" stop-color="#000019"/><stop offset="0.5" stop-color="#000013"/><stop offset="0.57" stop-color="#00000e"/><stop offset="0.64" stop-color="#00000e"/><stop offset="0.71" stop-color="#00000e"/><stop offset="0.79" stop-color="#00000e"/><stop offset="0.86" stop-color="#00000e"/><stop offset="0.93" stop-color="#00000e"/><stop offset="1" stop-color="#00000e"/></radialGradient>
<radialGradient id="g51"><stop offset="0" stop-color="#000029"/><stop offset="0.07" stop-color="#000028"/><stop offset="0.14" stop-color="#000025"/><stop offset="0.21" stop-color="#000021"/><stop offset="0.29" stop-color="#00001c"/><stop offset="0.36" stop-color="#000017"/><stop offset="0.43" stop-color="#000012"/><stop offset="0.5" stop-color="#00000e"/><stop offset="0.57" stop-color="#00000e"/><stop offset="0.64" stop-color="#00000e"/><stop offset="0.71" stop-color="#00000e"/><stop offset="0.79" stop-color="#00000e"/><stop offset="0.86" stop-color="#00000e"/><stop offset="0.93" stop-color="#00000e"/><stop offset="1" stop-color="#00000e"/></radialGradient>
<radialGradient id="g52"><stop offset="0" stop-color="#000030"/><stop offset="0.07" stop-color="#00002f"/><stop offset="0.14" stop-color="#00002b"/><stop offset="0.21" stop-color="#000027"/><stop offset="0.29" stop-color="#000021"/><stop offset="0.36" stop-color="#00001b"/><stop offset="0.43" stop-color="#000015"/><stop offset="0.5" stop-color="#00000f"/><stop offset="0.57" stop-color="#00000e"/><stop offset="0.64" stop-color="#00000e"/><stop offset="0.71" stop-color="#00000e"/><stop offset="0.79" stop-color="#00000e"/><stop offset="0.86" stop-color="#00000e"/><stop offset="0.93" stop-color="#00000e"/><stop offset="1" stop-color="#00000e"/></radialGradient>
<radialGradient id="g53"><stop offset="0" stop-color="#33ffff"/><stop offset="0.07" stop-color="#20ffff"/><stop offset="0.14" stop-color="#00f1ff"/><stop offset="0.21" stop-color="#00bbff"/><stop offset="0.29" stop-color="#007aff"/><stop offset="0.36" stop-color="#0033ff"/><stop offset="0.43" stop-color="#0000ee"/><stop offset="0.5" stop-color="#0000b1"/><stop offset="0.57" stop-color="#00007d"/><stop offset="0.64" stop-color="#000055"/><stop offset="0.71" stop-color="#000037"/><stop offset="0.79" stop-color="#000022"/><stop offset="0.86" stop-color="#000014"/><stop offset="0.93" stop-color="#00000e"/><stop offset="1" stop-color="#00000e"/></radialGradient>
<radialGradient id="g54"><stop offset="0" stop-color="#ffffff"/><stop offset="0.07" stop-color="#ffffff"/><stop offset="0.14" stop-color="#ffffff"/><stop offset="0.21" stop-color="#ffffff"/><stop offset="0.29" stop-color="#76ffff"/><stop offset="0.36" stop-color="#00e0ff"/><stop offset="0.43" stop-color="#0075ff"/><stop offset="0.5" stop-color="#0015ff"/><stop offset="0.57" stop-color="#0000c4"/><stop offset="0.64" stop-color="#000084"/><stop offset="0.71" stop-color="#000056"/><stop offset="0.79" stop-color="#000035"/><stop offset="0.86" stop-color="#00001f"/><stop offset="0.93" stop-color="#000012"/><stop offset="1" stop-color="#00000e"/></radialGradient>
<clipPath id="c7"><rect x="158.5" y="1944.3" width="569" height="423"/></clipPath>
<radialGradient id="g55"><stop offset="0" stop-color="#000052"/><stop offset="0.07" stop-color="#000050"/><stop offset="0.14" stop-color="#00004a"/><stop offset="0.21" stop-color="#000042"/><stop offset="0.29" stop-color="#000039"/><stop offset="0.36" stop-color="#00002e"/><stop offset="0.43" stop-color="#000024"/><stop offset="0.5" stop-color="#00001a"/><stop offset="0.57" stop-color="#000013"/><stop offset="0.64" stop-color="#00000e"/><stop offset="0.71" stop-color="#00000e"/><stop offset="0.79" stop-color="#00000e"/><stop offset="0.86" stop-color="#00000e"/><stop offset="0.93" stop-color="#00000e"/><stop offset="1" stop-color="#00000e"/></radialGradient>
<radialGradient id="g56"><stop offset="0" stop-color="#000096"/><stop offset="0.07" stop-color="#000092"/><stop offset="0.14" stop-color="#000088"/><stop offset="0.21" stop-color="#00007a"/><stop offset="0.29" stop-color="#000068"/><stop offset="0.36" stop-color="#000054"/><stop offset="0.43" stop-color="#000041"/><stop offset="0.5" stop-color="#000031"/><stop offset="0.57" stop-color="#000022"/><stop offset="0.64" stop-color="#000017"/><stop offset="0.71" stop-color="#00000f"/><stop offset="0.79" stop-color="#00000e"/><stop offset="0.86" stop-color="#00000e"/><stop offset="0.93" stop-color="#00000e"/><stop offset="1" stop-color="#00000e"/></radialGradient>
<radialGradient id="g57"><stop offset="0" stop-color="#000018"/><stop offset="0.07" stop-color="#000017"/><stop offset="0.14" stop-color="#000016"/><stop offset="0.21" stop-color="#000013"/><stop offset="0.29" stop-color="#000010"/><stop offset="0.36" stop-color="#00000e"/><stop offset="0.43" stop-color="#00000e"/><stop offset="0.5" stop-color="#00000e"/><stop offset="0.57" stop-color="#00000e"/><stop offset="0.64" stop-color="#00000e"/><stop offset="0.71" stop-color="#00000e"/><stop offset="0.79" stop-color="#00000e"/><stop offset="0.86" stop-color="#00000e"/><stop offset="0.93" stop-color="#00000e"/><stop offset="1" stop-color="#00000e"/></radialGradient>
<radialGradient id="g58"><stop offset="0" stop-color="#ffffff"/><stop offset="0.07" stop-color="#e8ffff"/><stop offset="0.14" stop-color="#a5ffff"/><stop offset="0.21" stop-color="#41ffff"/><stop offset="0.29" stop-color="#00d8ff"/><stop offset="0.36" stop-color="#0080ff"/><stop offset="0.43" stop-color="#002bff"/><stop offset="0.5" stop-color="#0000dd"/><stop offset="0.57" stop-color="#00009c"/><stop offset="0.64" stop-color="#00006a"/><stop offset="0.71" stop-color="#000044"/><stop offset="0.79" stop-color="#00002a"/><stop offset="0.86" stop-color="#000019"/><stop offset="0.93" stop-color="#00000e"/><stop offset="1" stop-color="#00000e"/></radialGradient>
<clipPath id="c8"><rect x="856" y="1946.6" width="564.3" height="419.8"/></clipPath>
<radialGradient id="g59"><stop offset="0" stop-color="#00005f"/><stop offset="0.07" stop-color="#00005d"/><stop offset="0.14" stop-color="#000057"/><stop offset="0.21" stop-color="#00004d"/><stop offset="0.29" stop-color="#000042"/><stop offset="0.36" stop-color="#000036"/><stop offset="0.43" stop-color="#00002a"/><stop offset="0.5" stop-color="#00001f"/><stop offset="0.57" stop-color="#000016"/><stop offset="0.64" stop-color="#00000f"/><stop offset="0.71" stop-color="#00000e"/><stop offset="0.79" stop-color="#00000e"/><stop offset="0.86" stop-color="#00000e"/><stop offset="0.93" stop-color="#00000e"/><stop offset="1" stop-color="#00000e"/></radialGradient>
<radialGradient id="g60"><stop offset="0" stop-color="#00a7ff"/><stop offset="0.07" stop-color="#009dff"/><stop offset="0.14" stop-color="#0082ff"/><stop offset="0.21" stop-color="#0058ff"/><stop offset="0.29" stop-color="#0025ff"/><stop offset="0.36" stop-color="#0000ed"/><stop offset="0.43" stop-color="#0000b8"/><stop offset="0.5" stop-color="#000089"/><stop offset="0.57" stop-color="#000061"/><stop offset="0.64" stop-color="#000042"/><stop offset="0.71" stop-color="#00002a"/><stop offset="0.79" stop-color="#00001a"/><stop offset="0.86" stop-color="#00000f"/><stop offset="0.93" stop-color="#00000e"/><stop offset="1" stop-color="#00000e"/></radialGradient>
<clipPath id="c9"><rect x="1548.6" y="1950.3" width="425.2" height="423.5"/></clipPath>
<linearGradient id="cb61" x1="0" y1="0" x2="0" y2="1"><stop offset="0" stop-color="#ffffff"/><stop offset="0.04" stop-color="#ffffd5"/><stop offset="0.08" stop-color="#ffffaa"/><stop offset="0.12" stop-color="#ffff80"/><stop offset="0.17" stop-color="#ffff55"/><stop offset="0.21" stop-color="#ffff2a"/><stop offset="0.25" stop-color="#ffff00"/><stop offset="0.29" stop-color="#ffe300"/><stop offset="0.33" stop-color="#ffc600"/><stop offset="0.38" stop-color="#ffaa00"/><stop offset="0.42" stop-color="#ff8e00"/><stop offset="0.46" stop-color="#ff7100"/><stop offset="0.5" stop-color="#ff5500"/><stop offset="0.54" stop-color="#ff3900"/><stop offset="0.58" stop-color="#ff1c00"/><stop offset="0.62" stop-color="#ff0000"/><stop offset="0.67" stop-color="#e30000"/><stop offset="0.71" stop-color="#c60000"/><stop offset="0.75" stop-color="#aa0000"/><stop offset="0.79" stop-color="#8e0000"/><stop offset="0.83" stop-color="#710000"/><stop offset="0.88" stop-color="#550000"/><stop offset="0.92" stop-color="#390000"/><stop offset="0.96" stop-color="#1c0000"/><stop offset="1" stop-color="#0b0000"/></linearGradient>
<linearGradient id="cb62" x1="0" y1="0" x2="0" y2="1"><stop offset="0" stop-color="#ffffff"/><stop offset="0.04" stop-color="#efffef"/><stop offset="0.08" stop-color="#dfffdf"/><stop offset="0.12" stop-color="#cfffcf"/><stop offset="0.17" stop-color="#c0ffc0"/><stop offset="0.21" stop-color="#b0ffb0"/><stop offset="0.25" stop-color="#a0ffa0"/><stop offset="0.29" stop-color="#90ff90"/><stop offset="0.33" stop-color="#80ff80"/><stop offset="0.38" stop-color="#70ff70"/><stop offset="0.42" stop-color="#60ff60"/><stop offset="0.46" stop-color="#51ff51"/><stop offset="0.5" stop-color="#41ff41"/><stop offset="0.54" stop-color="#31ff31"/><stop offset="0.58" stop-color="#21ff21"/><stop offset="0.62" stop-color="#11ff11"/><stop offset="0.67" stop-color="#0aff01"/><stop offset="0.71" stop-color="#0ae100"/><stop offset="0.75" stop-color="#0ac100"/><stop offset="0.79" stop-color="#0aa100"/><stop offset="0.83" stop-color="#0a8100"/><stop offset="0.88" stop-color="#0a6100"/><stop offset="0.92" stop-color="#0a4000"/><stop offset="0.96" stop-color="#0a2000"/><stop offset="1" stop-color="#0a0000"/></linearGradient>
<linearGradient id="cb63" x1="0" y1="0" x2="0" y2="1"><stop offset="0" stop-color="#ffffff"/><stop offset="0.04" stop-color="#d5ffff"/><stop offset="0.08" stop-color="#aaffff"/><stop offset="0.12" stop-color="#80ffff"/><stop offset="0.17" stop-color="#55ffff"/><stop offset="0.21" stop-color="#2affff"/><stop offset="0.25" stop-color="#00ffff"/><stop offset="0.29" stop-color="#00e3ff"/><stop offset="0.33" stop-color="#00c6ff"/><stop offset="0.38" stop-color="#00aaff"/><stop offset="0.42" stop-color="#008eff"/><stop offset="0.46" stop-color="#0071ff"/><stop offset="0.5" stop-color="#0055ff"/><stop offset="0.54" stop-color="#0039ff"/><stop offset="0.58" stop-color="#001cff"/><stop offset="0.62" stop-color="#0000ff"/><stop offset="0.67" stop-color="#0000e3"/><stop offset="0.71" stop-color="#0000c6"/><stop offset="0.75" stop-color="#0000aa"/><stop offset="0.79" stop-color="#00008e"/><stop offset="0.83" stop-color="#000071"/><stop offset="0.88" stop-color="#000055"/><stop offset="0.92" stop-color="#000039"/><stop offset="0.96" stop-color="#00001c"/><stop offset="1" stop-color="#00000e"/></linearGradient></defs>
<rect x="864.2" y="24.8" width="332.2" height="166.1" fill="#ff0000"/>
<rect x="1196.4" y="24.8" width="166.6" height="166.1" fill="#0000ff"/>
<rect x="1196.4" y="190.9" width="166.6" height="332.1" fill="#00ff00"/>
<path d="M864.8 190.9 V400 M883 523.3 H1196.4" stroke="#bdd7ee" stroke-width="2" fill="none"/>
<path d="M864.2 24.2 H1030" stroke="#dbe8f5" stroke-width="2" fill="none"/>
<path d="M1031.4 25.5 V490 M1282.5 24.9 V523" stroke-width="2.5" stroke-dasharray="10.8 8.9" stroke="#ffc000" fill="none"/>
<path d="M866 356.6 H1363" stroke-width="2.6" stroke-dasharray="11 8.7" stroke="#ffc000" fill="none"/>
<path d="M865.2 108.2 H1363" stroke-width="2.9" stroke-dasharray="14.9 11.4" stroke="#ffc000" fill="none"/>
<circle cx="1030.6" cy="107.2" r="54.5" fill="url(#dR)"/>
<text transform="translate(1033 148.6) scale(0.88 1)" text-anchor="middle" font-family="'Liberation Sans', sans-serif" font-size="115" fill="#ff0000" stroke="#ff0000" stroke-width="2.2" stroke-linejoin="round">R</text>
<circle cx="1279.8" cy="108" r="56" fill="url(#dB)"/>
<text transform="translate(1281 152) scale(0.92 1)" text-anchor="middle" font-family="'Liberation Sans', sans-serif" font-size="118" fill="#0000ff" stroke="#0000ff" stroke-width="2.2" stroke-linejoin="round">B</text>
<circle cx="1280" cy="356.6" r="56" fill="url(#dG)"/>
<text transform="translate(1281 400.8) scale(0.91 1)" text-anchor="middle" font-family="'Liberation Sans', sans-serif" font-size="119" fill="#00ff00" stroke="#00ff00" stroke-width="2.2" stroke-linejoin="round">G</text>
<circle cx="1030.8" cy="356.6" r="60.5" fill="url(#dA)"/>
<text transform="translate(1030.8 402) scale(0.94 1)" text-anchor="middle" font-family="'Liberation Sans', sans-serif" font-size="119" fill="#000000" stroke="#000000" stroke-width="2.2" stroke-linejoin="round">A</text>
<path d="M859.6 500 L862.2 424" stroke="#000" stroke-width="8.5" fill="none"/>
<path d="M863.4 400.5 L850.3 425.4 L875.3 425.4 Z" fill="#000"/>
<path d="M883 529.4 L961 527.4" stroke="#000" stroke-width="9" fill="none"/>
<path d="M986 527.3 L959.8 514.8 L959.8 540.6 Z" fill="#000"/>
<circle cx="854.4" cy="526.9" r="25" fill="#fff" stroke="#000" stroke-width="7"/>
<circle cx="854.4" cy="526.9" r="7" fill="#1f4e79"/><circle cx="854.4" cy="526.9" r="4" fill="#000"/>
<text x="804.5" y="385" font-size="78" font-family="'Liberation Serif', serif" font-style="italic" fill="#000">y</text>
<text x="764" y="129.7" font-size="76" fill="#000" stroke="#fff" stroke-width="0.8" font-family="'Liberation Serif', serif" font-weight="bold">(a)</text>
<text x="1012" y="523" font-size="77" font-family="'Liberation Serif', serif" font-style="italic" fill="#000">x</text>
<text x="758.5" y="536" font-size="80" font-family="'Liberation Serif', serif" font-style="italic" fill="#000">z</text>
<g clip-path="url(#c1)" style="isolation:isolate">
<rect x="157.5" y="684.3" width="569.5" height="423.4" fill="#0b0000"/>
<ellipse class="b" cx="347" cy="706" rx="96" ry="114" fill="url(#g1)"/>
<ellipse class="b" cx="304" cy="700" rx="22.5" ry="114" fill="url(#g2)" transform="rotate(-8 304 700)"/>
<ellipse class="b" cx="324.5" cy="716" rx="22.5" ry="132" fill="url(#g3)" transform="rotate(-4 324.5 716)"/>
<ellipse class="b" cx="369" cy="716" rx="22.5" ry="132" fill="url(#g3)" transform="rotate(4 369 716)"/>
<ellipse class="b" cx="389.5" cy="700" rx="22.5" ry="114" fill="url(#g2)" transform="rotate(8 389.5 700)"/>
<ellipse class="b" cx="347" cy="968" rx="150" ry="96" fill="url(#g4)"/>
<ellipse class="b" cx="347" cy="905" rx="90" ry="75" fill="url(#g5)"/>
<ellipse class="b" cx="333.4" cy="875" rx="12" ry="36" fill="url(#g6)" transform="rotate(5 333.4 875)"/>
<ellipse class="b" cx="360.6" cy="875" rx="12" ry="36" fill="url(#g6)" transform="rotate(-5 360.6 875)"/>
<ellipse class="b" cx="319.4" cy="899" rx="12" ry="36" fill="url(#g7)" transform="rotate(5 319.4 899)"/>
<ellipse class="b" cx="374.6" cy="899" rx="12" ry="36" fill="url(#g7)" transform="rotate(-5 374.6 899)"/>
<ellipse class="b" cx="305.7" cy="920" rx="12" ry="33" fill="url(#g8)" transform="rotate(5 305.7 920)"/>
<ellipse class="b" cx="388.3" cy="920" rx="12" ry="33" fill="url(#g8)" transform="rotate(-5 388.3 920)"/>
<ellipse class="b" cx="293" cy="945" rx="12" ry="30" fill="url(#g9)" transform="rotate(5 293 945)"/>
<ellipse class="b" cx="401" cy="945" rx="12" ry="30" fill="url(#g9)" transform="rotate(-5 401 945)"/>
<ellipse class="b" cx="281" cy="972" rx="12" ry="30" fill="url(#g5)" transform="rotate(5 281 972)"/>
<ellipse class="b" cx="413" cy="972" rx="12" ry="30" fill="url(#g5)" transform="rotate(-5 413 972)"/>
<ellipse class="b" cx="333" cy="935" rx="12" ry="27" fill="url(#g10)" transform="rotate(5 333 935)"/>
<ellipse class="b" cx="361" cy="935" rx="12" ry="27" fill="url(#g10)" transform="rotate(-5 361 935)"/>
<ellipse class="b" cx="320" cy="958" rx="12" ry="27" fill="url(#g11)" transform="rotate(5 320 958)"/>
<ellipse class="b" cx="374" cy="958" rx="12" ry="27" fill="url(#g11)" transform="rotate(-5 374 958)"/>
<ellipse class="b" cx="307" cy="985" rx="12" ry="27" fill="url(#g4)" transform="rotate(5 307 985)"/>
<ellipse class="b" cx="387" cy="985" rx="12" ry="27" fill="url(#g4)" transform="rotate(-5 387 985)"/>
<ellipse class="b" cx="346.4" cy="921" rx="12" ry="30" fill="url(#g12)"/>
<ellipse class="b" cx="346.4" cy="985" rx="15" ry="27" fill="url(#g11)"/>
<ellipse class="b" cx="346.6" cy="862" rx="27" ry="36" fill="url(#g13)"/>
<ellipse class="b" cx="346.6" cy="780" rx="13.2" ry="72" fill="url(#g14)"/>
<ellipse class="b" cx="346.6" cy="823.5" rx="18" ry="78" fill="url(#g15)"/>
<ellipse class="b" cx="631.6" cy="935" rx="12.6" ry="51" fill="url(#g16)" transform="rotate(2 631.6 935)"/>
<ellipse class="b" cx="632.5" cy="886" rx="10.8" ry="39" fill="url(#g11)"/>
<path d="M157.5 817.1 H715" stroke="#fff" stroke-width="4.2" stroke-dasharray="16 15.8" fill="none"/>
</g>
<rect x="157.5" y="684.3" width="569.5" height="423.4" fill="none" stroke="#3c3c3c" stroke-width="1.8"/>
<text x="157.5" y="1161.7" text-anchor="middle" font-size="41" fill="#262626" font-family="'Liberation Sans', sans-serif" font-weight="bold" stroke="#fff" stroke-width="0.55">0</text>
<text x="294.93" y="1161.7" text-anchor="middle" font-size="41" fill="#262626" font-family="'Liberation Sans', sans-serif" font-weight="bold" stroke="#fff" stroke-width="0.55">5</text>
<text x="432.36" y="1161.7" text-anchor="middle" font-size="41" fill="#262626" font-family="'Liberation Sans', sans-serif" font-weight="bold" stroke="#fff" stroke-width="0.55">10</text>
<text x="569.78" y="1161.7" text-anchor="middle" font-size="41" fill="#262626" font-family="'Liberation Sans', sans-serif" font-weight="bold" stroke="#fff" stroke-width="0.55">15</text>
<text x="707.21" y="1161.7" text-anchor="middle" font-size="41" fill="#262626" font-family="'Liberation Sans', sans-serif" font-weight="bold" stroke="#fff" stroke-width="0.55">20</text>
<text x="144.3" y="1123.5" text-anchor="end" font-size="41" fill="#262626" font-family="'Liberation Sans', sans-serif" font-weight="bold" stroke="#fff" stroke-width="0.55">0</text>
<text x="144.3" y="982.37" text-anchor="end" font-size="41" fill="#262626" font-family="'Liberation Sans', sans-serif" font-weight="bold" stroke="#fff" stroke-width="0.55">5</text>
<text x="144.3" y="841.23" text-anchor="end" font-size="41" fill="#262626" font-family="'Liberation Sans', sans-serif" font-weight="bold" stroke="#fff" stroke-width="0.55">10</text>
<text x="144.3" y="700.1" text-anchor="end" font-size="41" fill="#262626" font-family="'Liberation Sans', sans-serif" font-weight="bold" stroke="#fff" stroke-width="0.55">15</text>
<text x="442.25" y="1217.7" text-anchor="middle" font-size="45" fill="#262626" font-family="'Liberation Sans', sans-serif" font-weight="bold" stroke="#fff" stroke-width="0.55">X(μm)</text>
<text transform="translate(82.5 896) rotate(-90)" text-anchor="middle" font-size="45" fill="#262626" font-family="'Liberation Sans', sans-serif" font-weight="bold" stroke="#fff" stroke-width="0.55">Z(μm)</text>
<text x="393.16" y="669.8" font-size="58" fill="#000" font-family="'Liberation Sans', sans-serif" font-weight="bold" stroke="#fff" stroke-width="0.55">|E|</text>
<text x="464.32" y="640" font-size="45" fill="#000" font-family="'Liberation Sans', sans-serif" font-weight="bold" stroke="#fff" stroke-width="0.55">2</text>
<text x="70.6" y="625" font-size="77" fill="#000" font-family="'Liberation Serif', serif" font-weight="bold" stroke="#fff" stroke-width="0.8">(b)</text>
<g clip-path="url(#c2)" style="isolation:isolate">
<rect x="853.4" y="685" width="569.4" height="422.2" fill="#0b0000"/>
<ellipse class="b" cx="1023" cy="800" rx="12" ry="90" fill="url(#g17)"/>
<ellipse class="b" cx="1063" cy="800" rx="12" ry="90" fill="url(#g17)"/>
<ellipse class="b" cx="1043" cy="740" rx="36" ry="60" fill="url(#g18)"/>
<ellipse class="b" cx="1043" cy="807" rx="16.2" ry="81" fill="url(#g19)"/>
<ellipse class="b" cx="1043" cy="911" rx="12" ry="36" fill="url(#g20)"/>
<ellipse class="b" cx="1043" cy="960" rx="10.2" ry="18" fill="url(#g9)"/>
<ellipse class="b" cx="1030" cy="935" rx="9" ry="24" fill="url(#g4)"/>
<ellipse class="b" cx="1056" cy="935" rx="9" ry="24" fill="url(#g4)"/>
<ellipse class="b" cx="1329" cy="798" rx="21" ry="78" fill="url(#g8)" transform="rotate(18 1329 798)"/>
<ellipse class="b" cx="1293" cy="817" rx="15" ry="87" fill="url(#g21)" transform="rotate(8 1293 817)"/>
<ellipse class="b" cx="1213" cy="911" rx="22.5" ry="81" fill="url(#g9)" transform="rotate(20 1213 911)"/>
<ellipse class="b" cx="873" cy="917" rx="21" ry="81" fill="url(#g5)" transform="rotate(-20 873 917)"/>
<ellipse class="b" cx="1325" cy="985" rx="66" ry="36" fill="url(#g5)"/>
<ellipse class="b" cx="1298" cy="925" rx="12" ry="48" fill="url(#g9)" transform="rotate(10 1298 925)"/>
<ellipse class="b" cx="1353" cy="925" rx="12" ry="48" fill="url(#g11)" transform="rotate(-5 1353 925)"/>
<ellipse class="b" cx="1325" cy="880" rx="48" ry="90" fill="url(#g9)"/>
<ellipse class="b" cx="1325.6" cy="904.5" rx="21.6" ry="58.5" fill="url(#g22)" transform="rotate(4 1325.6 904.5)"/>
<path d="M853.4 818 H1410.8" stroke="#fff" stroke-width="4.2" stroke-dasharray="16 15.8" fill="none"/>
</g>
<rect x="853.4" y="685" width="569.4" height="422.2" fill="none" stroke="#3c3c3c" stroke-width="1.8"/>
<text x="853.4" y="1161.2" text-anchor="middle" font-size="41" fill="#262626" font-family="'Liberation Sans', sans-serif" font-weight="bold" stroke="#fff" stroke-width="0.55">0</text>
<text x="990.8" y="1161.2" text-anchor="middle" font-size="41" fill="#262626" font-family="'Liberation Sans', sans-serif" font-weight="bold" stroke="#fff" stroke-width="0.55">5</text>
<text x="1128.21" y="1161.2" text-anchor="middle" font-size="41" fill="#262626" font-family="'Liberation Sans', sans-serif" font-weight="bold" stroke="#fff" stroke-width="0.55">10</text>
<text x="1265.61" y="1161.2" text-anchor="middle" font-size="41" fill="#262626" font-family="'Liberation Sans', sans-serif" font-weight="bold" stroke="#fff" stroke-width="0.55">15</text>
<text x="1403.01" y="1161.2" text-anchor="middle" font-size="41" fill="#262626" font-family="'Liberation Sans', sans-serif" font-weight="bold" stroke="#fff" stroke-width="0.55">20</text>
<text x="840.2" y="1123" text-anchor="end" font-size="41" fill="#262626" font-family="'Liberation Sans', sans-serif" font-weight="bold" stroke="#fff" stroke-width="0.55">0</text>
<text x="840.2" y="982.27" text-anchor="end" font-size="41" fill="#262626" font-family="'Liberation Sans', sans-serif" font-weight="bold" stroke="#fff" stroke-width="0.55">5</text>
<text x="840.2" y="841.53" text-anchor="end" font-size="41" fill="#262626" font-family="'Liberation Sans', sans-serif" font-weight="bold" stroke="#fff" stroke-width="0.55">10</text>
<text x="840.2" y="700.8" text-anchor="end" font-size="41" fill="#262626" font-family="'Liberation Sans', sans-serif" font-weight="bold" stroke="#fff" stroke-width="0.55">15</text>
<text x="1138.1" y="1217.2" text-anchor="middle" font-size="45" fill="#262626" font-family="'Liberation Sans', sans-serif" font-weight="bold" stroke="#fff" stroke-width="0.55">X(μm)</text>
<text transform="translate(778.4 896.1) rotate(-90)" text-anchor="middle" font-size="45" fill="#262626" font-family="'Liberation Sans', sans-serif" font-weight="bold" stroke="#fff" stroke-width="0.55">Z(μm)</text>
<text x="1089.01" y="670.5" font-size="58" fill="#000" font-family="'Liberation Sans', sans-serif" font-weight="bold" stroke="#fff" stroke-width="0.55">|E|</text>
<text x="1160.17" y="640.7" font-size="45" fill="#000" font-family="'Liberation Sans', sans-serif" font-weight="bold" stroke="#fff" stroke-width="0.55">2</text>
<text x="747" y="625.2" font-size="77" fill="#000" font-family="'Liberation Serif', serif" font-weight="bold" stroke="#fff" stroke-width="0.8">(c)</text>
<g clip-path="url(#c3)" style="isolation:isolate">
<rect x="1551" y="684" width="425.6" height="422.8" fill="#0b0000"/>
<ellipse class="b" cx="1692.1" cy="767" rx="13.5" ry="19.5" fill="url(#g13)"/>
<ellipse class="b" cx="1692.1" cy="789" rx="13.5" ry="13.5" fill="url(#g23)"/>
<ellipse class="b" cx="1674.4" cy="745" rx="9" ry="15" fill="url(#g11)"/>
<ellipse class="b" cx="1711.6" cy="745" rx="9" ry="15" fill="url(#g11)"/>
<ellipse class="b" cx="1692.1" cy="738" rx="12" ry="21" fill="url(#g24)"/>
<ellipse class="b" cx="1902.7" cy="940" rx="12" ry="39" fill="url(#g17)"/>
<ellipse class="b" cx="1902.7" cy="992" rx="12" ry="33" fill="url(#g5)"/>
<ellipse class="b" cx="1881" cy="970" rx="9" ry="15" fill="url(#g5)"/>
<ellipse class="b" cx="1693" cy="967.5" rx="13.8" ry="13.8" fill="url(#g25)"/>
<path d="M1551 754.7 L1666.5 754.54 L1667.5 754.36 L1668 754.23 L1668.5 754.08 L1669 753.89 L1669.5 753.67 L1670 753.43 L1670.5 753.18 L1671 752.93 L1671.5 752.7 L1672 752.49 L1672.5 752.34 L1674.5 752.34 L1675 752.49 L1675.5 752.7 L1676 752.93 L1676.5 753.18 L1677 753.43 L1677.5 753.67 L1678 753.89 L1678.5 754.08 L1679 754.23 L1680 754.46 L1681.5 754.63 L1682.5 754.67 L1683 750.4 L1683.5 745.24 L1684 740.28 L1684.5 735.53 L1685 731 L1685.5 726.68 L1686 722.58 L1686.5 718.72 L1687 715.08 L1687.5 711.69 L1688 708.55 L1688.5 705.66 L1689 703.04 L1689.5 700.71 L1690 698.66 L1690.5 696.94 L1691 695.55 L1691.5 694.55 L1692 694.03 L1692.5 694.28 L1693 695.1 L1693.5 696.34 L1694 697.93 L1694.5 699.85 L1695 702.07 L1695.5 704.58 L1696 707.36 L1696.5 710.4 L1697 713.7 L1697.5 717.23 L1698 721.01 L1698.5 725.01 L1699 729.24 L1699.5 733.7 L1700 738.36 L1700.5 743.24 L1701 748.32 L1701.5 753.61 L1702 754.69 L1705 754.48 L1706 754.26 L1706.5 754.11 L1707 753.93 L1707.5 753.72 L1708 753.48 L1708.5 753.23 L1709 752.98 L1709.5 752.74 L1710 752.53 L1710.5 752.36 L1711.5 752.2 L1713 752.46 L1713.5 752.65 L1714 752.88 L1714.5 753.13 L1715 753.38 L1715.5 753.63 L1716 753.85 L1716.5 754.04 L1717 754.21 L1718 754.44 L1719.5 754.62 L1976.5 754.7" stroke="#d80000" stroke-width="2.3" fill="none" stroke-linejoin="round"/>
<path d="M1551 966.3 L1683.5 966.3 L1684 964.03 L1684.5 961.85 L1685 959.78 L1685.5 957.81 L1686 955.94 L1686.5 954.17 L1687 952.51 L1687.5 950.96 L1688 949.52 L1688.5 948.18 L1689 946.96 L1689.5 945.86 L1690 944.88 L1690.5 944.02 L1691 943.28 L1691.5 942.68 L1692 942.23 L1692.5 941.92 L1693.5 941.92 L1694 942.23 L1694.5 942.68 L1695 943.28 L1695.5 944.02 L1696 944.88 L1696.5 945.86 L1697 946.96 L1697.5 948.18 L1698 949.52 L1698.5 950.96 L1699 952.51 L1699.5 954.17 L1700 955.94 L1700.5 957.81 L1701 959.78 L1701.5 961.85 L1702 964.03 L1702.5 966.3 L1869 966.12 L1870.5 965.89 L1871.5 965.61 L1872 965.43 L1872.5 965.22 L1873 964.97 L1873.5 964.68 L1874 964.35 L1874.5 963.99 L1875 963.59 L1875.5 963.16 L1876 962.71 L1876.5 962.24 L1877 961.77 L1877.5 961.31 L1878 960.86 L1878.5 960.45 L1879 960.09 L1879.5 959.78 L1880 959.54 L1880.5 959.38 L1882 959.4 L1882.5 959.57 L1883 959.82 L1883.5 960.13 L1884 960.5 L1884.5 960.91 L1885 961.34 L1885.5 961.78 L1886 962.23 L1886.5 962.66 L1887 963.07 L1887.5 963.44 L1888 963.76 L1888.5 964.04 L1889 964.26 L1889.5 964.42 L1891.5 964.43 L1892 964.28 L1892.5 964.07 L1893 963.79 L1893.5 963.47 L1894 963.09 L1894.5 962.66 L1895 962.18 L1895.5 961.67 L1896 961.13 L1896.5 960.56 L1897 959.97 L1897.5 959.38 L1898 958.8 L1898.5 958.23 L1899 957.68 L1899.5 957.18 L1900 956.72 L1900.5 956.33 L1901 956 L1901.5 955.75 L1902 955.59 L1903.5 955.61 L1904 955.8 L1904.5 956.06 L1905 956.4 L1905.5 956.81 L1906 957.28 L1906.5 957.79 L1907 958.34 L1907.5 958.92 L1908 959.51 L1908.5 960.11 L1909 960.7 L1909.5 961.27 L1910 961.82 L1910.5 962.35 L1911 962.84 L1911.5 963.3 L1912 963.71 L1912.5 964.09 L1913 964.43 L1913.5 964.73 L1914 964.99 L1914.5 965.22 L1915 965.41 L1915.5 965.58 L1916.5 965.84 L1917.5 966.01 L1919 966.17 L1976.5 966.3" stroke="#b40000" stroke-width="2.6" fill="none" stroke-linejoin="round"/>
<ellipse class="b" cx="1692.1" cy="752.5" rx="13.8" ry="15.6" fill="url(#g26)"/>
</g>
<rect x="1551" y="684" width="425.6" height="422.8" fill="none" stroke="#3c3c3c" stroke-width="1.8"/>
<text x="1551" y="1160.8" text-anchor="middle" font-size="41" fill="#262626" font-family="'Liberation Sans', sans-serif" font-weight="bold" stroke="#fff" stroke-width="0.55">0</text>
<text x="1653.7" y="1160.8" text-anchor="middle" font-size="41" fill="#262626" font-family="'Liberation Sans', sans-serif" font-weight="bold" stroke="#fff" stroke-width="0.55">5</text>
<text x="1756.41" y="1160.8" text-anchor="middle" font-size="41" fill="#262626" font-family="'Liberation Sans', sans-serif" font-weight="bold" stroke="#fff" stroke-width="0.55">10</text>
<text x="1859.11" y="1160.8" text-anchor="middle" font-size="41" fill="#262626" font-family="'Liberation Sans', sans-serif" font-weight="bold" stroke="#fff" stroke-width="0.55">15</text>
<text x="1961.81" y="1160.8" text-anchor="middle" font-size="41" fill="#262626" font-family="'Liberation Sans', sans-serif" font-weight="bold" stroke="#fff" stroke-width="0.55">20</text>
<text x="1537.8" y="1122.6" text-anchor="end" font-size="41" fill="#262626" font-family="'Liberation Sans', sans-serif" font-weight="bold" stroke="#fff" stroke-width="0.55">0</text>
<text x="1537.8" y="1020.08" text-anchor="end" font-size="41" fill="#262626" font-family="'Liberation Sans', sans-serif" font-weight="bold" stroke="#fff" stroke-width="0.55">5</text>
<text x="1537.8" y="917.56" text-anchor="end" font-size="41" fill="#262626" font-family="'Liberation Sans', sans-serif" font-weight="bold" stroke="#fff" stroke-width="0.55">10</text>
<text x="1537.8" y="815.03" text-anchor="end" font-size="41" fill="#262626" font-family="'Liberation Sans', sans-serif" font-weight="bold" stroke="#fff" stroke-width="0.55">15</text>
<text x="1537.8" y="712.51" text-anchor="end" font-size="41" fill="#262626" font-family="'Liberation Sans', sans-serif" font-weight="bold" stroke="#fff" stroke-width="0.55">20</text>
<text x="1763.8" y="1216.8" text-anchor="middle" font-size="45" fill="#262626" font-family="'Liberation Sans', sans-serif" font-weight="bold" stroke="#fff" stroke-width="0.55">X(μm)</text>
<text transform="translate(1476 895.4) rotate(-90)" text-anchor="middle" font-size="45" fill="#262626" font-family="'Liberation Sans', sans-serif" font-weight="bold" stroke="#fff" stroke-width="0.55">Y(μm)</text>
<text x="1714.71" y="669.5" font-size="58" fill="#000" font-family="'Liberation Sans', sans-serif" font-weight="bold" stroke="#fff" stroke-width="0.55">|E|</text>
<text x="1785.87" y="639.7" font-size="45" fill="#000" font-family="'Liberation Sans', sans-serif" font-weight="bold" stroke="#fff" stroke-width="0.55">2</text>
<text x="1437" y="623.2" font-size="77" fill="#000" font-family="'Liberation Serif', serif" font-weight="bold" stroke="#fff" stroke-width="0.8">(d)</text>
<g clip-path="url(#c4)" style="isolation:isolate">
<rect x="157" y="1314.7" width="570.3" height="422.7" fill="#0a0000"/>
<ellipse class="b" cx="347" cy="1428" rx="72" ry="96" fill="url(#g27)"/>
<ellipse class="b" cx="347" cy="1482" rx="108" ry="42" fill="url(#g28)"/>
<ellipse class="b" cx="347" cy="1380" rx="42" ry="75" fill="url(#g29)"/>
<ellipse class="b" cx="335.5" cy="1424" rx="13.5" ry="36" fill="url(#g30)"/>
<ellipse class="b" cx="358" cy="1424" rx="13.5" ry="36" fill="url(#g30)"/>
<ellipse class="b" cx="347" cy="1462" rx="13.5" ry="30" fill="url(#g29)"/>
<ellipse class="b" cx="318" cy="1450" rx="12" ry="36" fill="url(#g31)"/>
<ellipse class="b" cx="376" cy="1450" rx="12" ry="36" fill="url(#g31)"/>
<ellipse class="b" cx="346.8" cy="1350" rx="30" ry="90" fill="url(#g27)"/>
<ellipse class="b" cx="346.8" cy="1340" rx="22.5" ry="96" fill="url(#g32)"/>
<ellipse class="b" cx="346.8" cy="1322" rx="16.2" ry="105" fill="url(#g33)"/>
<ellipse class="b" cx="346.8" cy="1360" rx="16.2" ry="75" fill="url(#g33)"/>
<ellipse class="b" cx="630.8" cy="1490" rx="21" ry="138" fill="url(#g30)"/>
<ellipse class="b" cx="630.5" cy="1483" rx="15" ry="45" fill="url(#g30)" transform="rotate(3 630.5 1483)"/>
<ellipse class="b" cx="631.5" cy="1528" rx="16.8" ry="75" fill="url(#g34)"/>
<ellipse class="b" cx="632" cy="1425" rx="15" ry="45" fill="url(#g35)" transform="rotate(6 632 1425)"/>
<ellipse class="b" cx="631" cy="1566" rx="30" ry="24" fill="url(#g36)"/>
<path d="M157 1453.8 H715.3" stroke="#fff" stroke-width="4.2" stroke-dasharray="16 15.8" fill="none"/>
</g>
<rect x="157" y="1314.7" width="570.3" height="422.7" fill="none" stroke="#3c3c3c" stroke-width="1.8"/>
<text x="157" y="1791.4" text-anchor="middle" font-size="41" fill="#262626" font-family="'Liberation Sans', sans-serif" font-weight="bold" stroke="#fff" stroke-width="0.55">0</text>
<text x="294.62" y="1791.4" text-anchor="middle" font-size="41" fill="#262626" font-family="'Liberation Sans', sans-serif" font-weight="bold" stroke="#fff" stroke-width="0.55">5</text>
<text x="432.24" y="1791.4" text-anchor="middle" font-size="41" fill="#262626" font-family="'Liberation Sans', sans-serif" font-weight="bold" stroke="#fff" stroke-width="0.55">10</text>
<text x="569.86" y="1791.4" text-anchor="middle" font-size="41" fill="#262626" font-family="'Liberation Sans', sans-serif" font-weight="bold" stroke="#fff" stroke-width="0.55">15</text>
<text x="707.48" y="1791.4" text-anchor="middle" font-size="41" fill="#262626" font-family="'Liberation Sans', sans-serif" font-weight="bold" stroke="#fff" stroke-width="0.55">20</text>
<text x="143.8" y="1753.2" text-anchor="end" font-size="41" fill="#262626" font-family="'Liberation Sans', sans-serif" font-weight="bold" stroke="#fff" stroke-width="0.55">0</text>
<text x="143.8" y="1612.3" text-anchor="end" font-size="41" fill="#262626" font-family="'Liberation Sans', sans-serif" font-weight="bold" stroke="#fff" stroke-width="0.55">5</text>
<text x="143.8" y="1471.4" text-anchor="end" font-size="41" fill="#262626" font-family="'Liberation Sans', sans-serif" font-weight="bold" stroke="#fff" stroke-width="0.55">10</text>
<text x="143.8" y="1330.5" text-anchor="end" font-size="41" fill="#262626" font-family="'Liberation Sans', sans-serif" font-weight="bold" stroke="#fff" stroke-width="0.55">15</text>
<text x="442.15" y="1847.4" text-anchor="middle" font-size="45" fill="#262626" font-family="'Liberation Sans', sans-serif" font-weight="bold" stroke="#fff" stroke-width="0.55">X(μm)</text>
<text transform="translate(82 1526.05) rotate(-90)" text-anchor="middle" font-size="45" fill="#262626" font-family="'Liberation Sans', sans-serif" font-weight="bold" stroke="#fff" stroke-width="0.55">Z(μm)</text>
<text x="393.06" y="1300.2" font-size="58" fill="#000" font-family="'Liberation Sans', sans-serif" font-weight="bold" stroke="#fff" stroke-width="0.55">|E|</text>
<text x="464.22" y="1270.4" font-size="45" fill="#000" font-family="'Liberation Sans', sans-serif" font-weight="bold" stroke="#fff" stroke-width="0.55">2</text>
<text x="79" y="1258.2" font-size="77" fill="#000" font-family="'Liberation Serif', serif" font-weight="bold" stroke="#fff" stroke-width="0.8">(e)</text>
<g clip-path="url(#c5)" style="isolation:isolate">
<rect x="851.5" y="1314.5" width="568.8" height="422.5" fill="#0a0000"/>
<ellipse class="b" cx="1041.7" cy="1350" rx="9.6" ry="72" fill="url(#g27)"/>
<ellipse class="b" cx="1022" cy="1410" rx="7.8" ry="42" fill="url(#g36)"/>
<ellipse class="b" cx="1060" cy="1410" rx="7.8" ry="42" fill="url(#g36)"/>
<ellipse class="b" cx="1041.7" cy="1502" rx="9.6" ry="42" fill="url(#g30)"/>
<ellipse class="b" cx="1041.7" cy="1457" rx="11.1" ry="60" fill="url(#g37)"/>
<ellipse class="b" cx="1318.6" cy="1347" rx="13.5" ry="60" fill="url(#g38)" transform="rotate(8 1318.6 1347)"/>
<ellipse class="b" cx="1286.5" cy="1363" rx="9" ry="84" fill="url(#g39)" transform="rotate(8 1286.5 1363)"/>
<ellipse class="b" cx="1227" cy="1430" rx="15" ry="78" fill="url(#g35)" transform="rotate(8 1227 1430)"/>
<ellipse class="b" cx="1195" cy="1515" rx="12" ry="66" fill="url(#g36)" transform="rotate(25 1195 1515)"/>
<ellipse class="b" cx="872" cy="1460" rx="15" ry="96" fill="url(#g39)" transform="rotate(-13 872 1460)"/>
<ellipse class="b" cx="1357.6" cy="1434" rx="9" ry="72" fill="url(#g28)" transform="rotate(5 1357.6 1434)"/>
<ellipse class="b" cx="1293" cy="1440" rx="9" ry="66" fill="url(#g31)" transform="rotate(6 1293 1440)"/>
<ellipse class="b" cx="1300" cy="1560" rx="9" ry="39" fill="url(#g35)" transform="rotate(22 1300 1560)"/>
<ellipse class="b" cx="1312" cy="1590" rx="9" ry="39" fill="url(#g35)" transform="rotate(22 1312 1590)"/>
<ellipse class="b" cx="1330" cy="1585" rx="9" ry="39" fill="url(#g35)" transform="rotate(22 1330 1585)"/>
<ellipse class="b" cx="1345" cy="1575" rx="9" ry="39" fill="url(#g35)" transform="rotate(18 1345 1575)"/>
<ellipse class="b" cx="1300" cy="1615" rx="9" ry="39" fill="url(#g35)" transform="rotate(25 1300 1615)"/>
<ellipse class="b" cx="1352" cy="1600" rx="9" ry="39" fill="url(#g35)" transform="rotate(20 1352 1600)"/>
<ellipse class="b" cx="1325" cy="1522" rx="18" ry="33" fill="url(#g40)"/>
<ellipse class="b" cx="1325" cy="1540" rx="42" ry="75" fill="url(#g39)"/>
<ellipse class="b" cx="1324.5" cy="1408" rx="18" ry="51" fill="url(#g41)"/>
<ellipse class="b" cx="1325" cy="1448" rx="22.8" ry="69" fill="url(#g42)"/>
<path d="M851.5 1453.8 H1408.3" stroke="#fff" stroke-width="4.2" stroke-dasharray="16 15.8" fill="none"/>
</g>
<rect x="851.5" y="1314.5" width="568.8" height="422.5" fill="none" stroke="#3c3c3c" stroke-width="1.8"/>
<text x="851.5" y="1791" text-anchor="middle" font-size="41" fill="#262626" font-family="'Liberation Sans', sans-serif" font-weight="bold" stroke="#fff" stroke-width="0.55">0</text>
<text x="988.76" y="1791" text-anchor="middle" font-size="41" fill="#262626" font-family="'Liberation Sans', sans-serif" font-weight="bold" stroke="#fff" stroke-width="0.55">5</text>
<text x="1126.02" y="1791" text-anchor="middle" font-size="41" fill="#262626" font-family="'Liberation Sans', sans-serif" font-weight="bold" stroke="#fff" stroke-width="0.55">10</text>
<text x="1263.28" y="1791" text-anchor="middle" font-size="41" fill="#262626" font-family="'Liberation Sans', sans-serif" font-weight="bold" stroke="#fff" stroke-width="0.55">15</text>
<text x="1400.53" y="1791" text-anchor="middle" font-size="41" fill="#262626" font-family="'Liberation Sans', sans-serif" font-weight="bold" stroke="#fff" stroke-width="0.55">20</text>
<text x="838.3" y="1752.8" text-anchor="end" font-size="41" fill="#262626" font-family="'Liberation Sans', sans-serif" font-weight="bold" stroke="#fff" stroke-width="0.55">0</text>
<text x="838.3" y="1611.97" text-anchor="end" font-size="41" fill="#262626" font-family="'Liberation Sans', sans-serif" font-weight="bold" stroke="#fff" stroke-width="0.55">5</text>
<text x="838.3" y="1471.13" text-anchor="end" font-size="41" fill="#262626" font-family="'Liberation Sans', sans-serif" font-weight="bold" stroke="#fff" stroke-width="0.55">10</text>
<text x="838.3" y="1330.3" text-anchor="end" font-size="41" fill="#262626" font-family="'Liberation Sans', sans-serif" font-weight="bold" stroke="#fff" stroke-width="0.55">15</text>
<text x="1135.9" y="1847" text-anchor="middle" font-size="45" fill="#262626" font-family="'Liberation Sans', sans-serif" font-weight="bold" stroke="#fff" stroke-width="0.55">X(μm)</text>
<text transform="translate(776.5 1525.75) rotate(-90)" text-anchor="middle" font-size="45" fill="#262626" font-family="'Liberation Sans', sans-serif" font-weight="bold" stroke="#fff" stroke-width="0.55">Z(μm)</text>
<text x="1086.81" y="1300" font-size="58" fill="#000" font-family="'Liberation Sans', sans-serif" font-weight="bold" stroke="#fff" stroke-width="0.55">|E|</text>
<text x="1157.97" y="1270.2" font-size="45" fill="#000" font-family="'Liberation Sans', sans-serif" font-weight="bold" stroke="#fff" stroke-width="0.55">2</text>
<text x="753" y="1258.2" font-size="77" fill="#000" font-family="'Liberation Serif', serif" font-weight="bold" stroke="#fff" stroke-width="0.8">(f)</text>
<g clip-path="url(#c6)" style="isolation:isolate">
<rect x="1548.6" y="1314.1" width="425.2" height="422.7" fill="#0a0000"/>
<ellipse class="b" cx="1691" cy="1729" rx="10.5" ry="12" fill="url(#g39)"/>
<ellipse class="b" cx="1691" cy="1392" rx="36" ry="12" fill="url(#g39)"/>
<ellipse class="b" cx="1691" cy="1456" rx="9" ry="15" fill="url(#g36)"/>
<ellipse class="b" cx="1691.4" cy="1600" rx="10.5" ry="12" fill="url(#g30)"/>
<ellipse class="b" cx="1829" cy="1600" rx="15" ry="9" fill="url(#g39)"/>
<path d="M1548.6 1384.7 L1652.6 1384.55 L1656.6 1384.38 L1659.1 1384.2 L1660.6 1384.04 L1662.1 1383.82 L1663.1 1383.62 L1664.1 1383.37 L1664.6 1383.22 L1665.1 1383.05 L1665.6 1382.86 L1666.1 1382.66 L1666.6 1382.44 L1667.1 1382.2 L1667.6 1381.96 L1668.1 1381.7 L1668.6 1381.45 L1669.1 1381.19 L1669.6 1380.95 L1670.1 1380.71 L1670.6 1380.5 L1671.1 1380.3 L1671.6 1380.14 L1672.6 1379.88 L1674.1 1379.7 L1679.1 1379.53 L1680.6 1379.3 L1681.6 1379.11 L1682.6 1378.9 L1683.6 1378.68 L1684.6 1378.46 L1685.6 1378.27 L1686.6 1378.1 L1688.1 1377.89 L1690.1 1377.73 L1694.6 1377.88 L1696.1 1378.08 L1697.1 1378.26 L1698.1 1378.46 L1699.1 1378.68 L1700.1 1378.93 L1701.1 1379.19 L1702.1 1379.46 L1703.1 1379.74 L1704.1 1380.01 L1705.1 1380.27 L1706.1 1380.5 L1707.1 1380.68 L1708.6 1380.85 L1715.1 1381.03 L1716.1 1381.3 L1716.6 1381.47 L1717.1 1381.66 L1717.6 1381.87 L1718.1 1382.08 L1718.6 1382.31 L1719.1 1382.53 L1719.6 1382.75 L1720.1 1382.96 L1720.6 1383.15 L1721.1 1383.34 L1721.6 1383.5 L1722.6 1383.79 L1723.6 1384 L1724.6 1384.17 L1726.1 1384.33 L1728.6 1384.49 L1734.6 1384.64 L1891.6 1384.43 L1892.6 1384.24 L1893.1 1384.11 L1893.6 1383.96 L1894.1 1383.77 L1894.6 1383.56 L1895.1 1383.31 L1895.6 1383.03 L1896.1 1382.72 L1896.6 1382.38 L1897.1 1382.01 L1897.6 1381.62 L1898.1 1381.22 L1898.6 1380.82 L1899.1 1380.42 L1899.6 1380.04 L1900.1 1379.69 L1900.6 1379.38 L1901.1 1379.11 L1901.6 1378.91 L1902.6 1378.71 L1903.6 1378.79 L1904.1 1378.95 L1904.6 1379.16 L1905.1 1379.43 L1905.6 1379.76 L1906.1 1380.11 L1906.6 1380.5 L1907.1 1380.9 L1907.6 1381.3 L1908.1 1381.7 L1908.6 1382.09 L1909.1 1382.45 L1909.6 1382.78 L1910.1 1383.09 L1910.6 1383.36 L1911.1 1383.6 L1911.6 1383.81 L1912.1 1383.99 L1913.1 1384.26 L1914.1 1384.44 L1915.6 1384.59 L1973.6 1384.7" stroke="#00d400" stroke-width="2.6" fill="none" stroke-linejoin="round"/>
<path d="M1548.6 1590 L1549.1 1590.48 L1549.6 1590.92 L1550.1 1591.33 L1550.6 1591.7 L1551.1 1592.04 L1551.6 1592.36 L1552.1 1592.65 L1552.6 1592.92 L1553.1 1593.17 L1553.6 1593.39 L1554.1 1593.6 L1554.6 1593.79 L1555.1 1593.97 L1555.6 1594.13 L1556.6 1594.42 L1557.6 1594.66 L1558.6 1594.87 L1559.6 1595.04 L1561.1 1595.25 L1562.6 1595.42 L1564.6 1595.58 L1567.6 1595.75 L1573.1 1595.9 L1675.6 1595.73 L1676.1 1595.55 L1676.6 1595.29 L1677.1 1594.95 L1677.6 1594.54 L1678.1 1594.09 L1678.6 1593.65 L1679.1 1593.29 L1679.6 1593.06 L1680.6 1593.13 L1681.1 1593.42 L1681.6 1593.82 L1682.1 1594.27 L1682.6 1594.71 L1683.1 1595.1 L1683.6 1595.41 L1684.1 1595.63 L1684.6 1594.53 L1685.1 1591.56 L1685.6 1588.65 L1686.1 1585.81 L1686.6 1583.06 L1687.1 1580.42 L1687.6 1577.89 L1688.1 1575.49 L1688.6 1573.23 L1689.1 1571.13 L1689.6 1569.2 L1690.1 1567.48 L1690.6 1566.01 L1691.1 1564.88 L1691.6 1564.72 L1692.1 1565.75 L1692.6 1567.17 L1693.1 1568.84 L1693.6 1570.73 L1694.1 1572.8 L1694.6 1575.03 L1695.1 1577.4 L1695.6 1579.9 L1696.1 1582.53 L1696.6 1585.26 L1697.1 1588.09 L1697.6 1591 L1698.1 1593.98 L1698.6 1595.73 L1699.1 1595.55 L1699.6 1595.29 L1700.1 1594.95 L1700.6 1594.54 L1701.1 1594.09 L1701.6 1593.65 L1702.1 1593.29 L1702.6 1593.06 L1703.6 1593.13 L1704.1 1593.42 L1704.6 1593.82 L1705.1 1594.27 L1705.6 1594.71 L1706.1 1595.1 L1706.6 1595.41 L1707.1 1595.63 L1707.6 1595.79 L1708.6 1595.94 L1813.1 1595.76 L1814.6 1595.55 L1815.6 1595.34 L1816.1 1595.21 L1816.6 1595.05 L1817.1 1594.88 L1817.6 1594.68 L1818.1 1594.46 L1818.6 1594.22 L1819.1 1593.95 L1819.6 1593.66 L1820.1 1593.34 L1820.6 1593 L1821.1 1592.64 L1821.6 1592.26 L1822.1 1591.87 L1822.6 1591.47 L1823.1 1591.07 L1823.6 1590.66 L1824.1 1590.27 L1824.6 1589.89 L1825.1 1589.52 L1825.6 1589.19 L1826.1 1588.88 L1826.6 1588.62 L1827.1 1588.39 L1827.6 1588.21 L1828.6 1588.02 L1830.6 1588.28 L1831.1 1588.48 L1831.6 1588.72 L1832.1 1589 L1832.6 1589.32 L1833.1 1589.67 L1833.6 1590.04 L1834.1 1590.43 L1834.6 1590.82 L1835.1 1591.23 L1835.6 1591.63 L1836.1 1592.03 L1836.6 1592.41 L1837.1 1592.78 L1837.6 1593.14 L1838.1 1593.47 L1838.6 1593.78 L1839.1 1594.06 L1839.6 1594.32 L1840.1 1594.55 L1840.6 1594.77 L1841.1 1594.95 L1841.6 1595.12 L1842.6 1595.39 L1843.6 1595.59 L1845.1 1595.78 L1847.6 1595.93 L1867.6 1595.69 L1868.1 1595.54 L1868.6 1595.34 L1869.1 1595.08 L1869.6 1594.75 L1870.1 1594.33 L1870.6 1593.84 L1871.1 1593.26 L1871.6 1592.61 L1872.1 1591.91 L1872.6 1591.18 L1873.1 1590.46 L1873.6 1589.79 L1874.1 1589.2 L1874.6 1588.74 L1875.1 1588.43 L1876.1 1588.36 L1876.6 1588.6 L1877.1 1589 L1877.6 1589.54 L1878.1 1590.19 L1878.6 1590.89 L1879.1 1591.62 L1879.6 1592.34 L1880.1 1593.01 L1880.6 1593.62 L1881.1 1594.15 L1881.6 1594.59 L1882.1 1594.96 L1882.6 1595.25 L1883.1 1595.47 L1883.6 1595.63 L1884.6 1595.84 L1887.6 1595.99 L1888.1 1596 L1888.6 1593.85 L1889.1 1588.52 L1889.6 1583.25 L1890.1 1578.04 L1890.6 1572.89 L1891.1 1567.8 L1891.6 1562.78 L1892.1 1557.82 L1892.6 1552.93 L1893.1 1548.11 L1893.6 1543.36 L1894.1 1538.69 L1894.6 1534.1 L1895.1 1529.6 L1895.6 1525.17 L1896.1 1520.84 L1896.6 1516.6 L1897.1 1512.46 L1897.6 1508.43 L1898.1 1504.51 L1898.6 1500.71 L1899.1 1497.04 L1899.6 1493.52 L1900.1 1490.15 L1900.6 1486.96 L1901.1 1483.97 L1901.6 1481.22 L1902.1 1478.78 L1902.6 1476.78 L1903.1 1476.46 L1903.6 1478.33 L1904.1 1480.7 L1904.6 1483.4 L1905.1 1486.34 L1905.6 1489.5 L1906.1 1492.83 L1906.6 1496.33 L1907.1 1499.97 L1907.6 1503.74 L1908.1 1507.64 L1908.6 1511.65 L1909.1 1515.77 L1909.6 1519.98 L1910.1 1524.3 L1910.6 1528.7 L1911.1 1533.2 L1911.6 1537.77 L1912.1 1542.42 L1912.6 1547.15 L1913.1 1551.96 L1913.6 1556.83 L1914.1 1561.78 L1914.6 1566.79 L1915.1 1571.86 L1915.6 1577 L1916.1 1582.19 L1916.6 1587.44 L1917.1 1592.74 L1917.6 1595.93 L1919.1 1595.74 L1919.6 1595.61 L1920.1 1595.45 L1920.6 1595.23 L1921.1 1594.94 L1921.6 1594.59 L1922.1 1594.17 L1922.6 1593.69 L1923.1 1593.14 L1923.6 1592.55 L1924.1 1591.93 L1924.6 1591.33 L1925.1 1590.76 L1925.6 1590.26 L1926.1 1589.87 L1926.6 1589.61 L1927.6 1589.55 L1928.1 1589.75 L1928.6 1590.09 L1929.1 1590.55 L1929.6 1591.09 L1930.1 1591.69 L1930.6 1592.3 L1931.1 1592.91 L1931.6 1593.47 L1932.1 1593.99 L1932.6 1594.43 L1933.1 1594.81 L1933.6 1595.12 L1934.1 1595.36 L1934.6 1595.55 L1935.6 1595.79 L1937.1 1595.95 L1973.6 1596" stroke="#00d400" stroke-width="2.4" fill="none" stroke-linejoin="round"/>
<ellipse class="b" cx="1902.9" cy="1609" rx="15" ry="7.5" fill="url(#g38)"/>
<ellipse class="b" cx="1902.9" cy="1583" rx="15" ry="7.5" fill="url(#g29)"/>
<ellipse class="b" cx="1902.9" cy="1596.5" rx="16.8" ry="9" fill="url(#g43)"/>
</g>
<rect x="1548.6" y="1314.1" width="425.2" height="422.7" fill="none" stroke="#3c3c3c" stroke-width="1.8"/>
<text x="1548.6" y="1790.8" text-anchor="middle" font-size="41" fill="#262626" font-family="'Liberation Sans', sans-serif" font-weight="bold" stroke="#fff" stroke-width="0.55">0</text>
<text x="1651.21" y="1790.8" text-anchor="middle" font-size="41" fill="#262626" font-family="'Liberation Sans', sans-serif" font-weight="bold" stroke="#fff" stroke-width="0.55">5</text>
<text x="1753.81" y="1790.8" text-anchor="middle" font-size="41" fill="#262626" font-family="'Liberation Sans', sans-serif" font-weight="bold" stroke="#fff" stroke-width="0.55">10</text>
<text x="1856.42" y="1790.8" text-anchor="middle" font-size="41" fill="#262626" font-family="'Liberation Sans', sans-serif" font-weight="bold" stroke="#fff" stroke-width="0.55">15</text>
<text x="1959.02" y="1790.8" text-anchor="middle" font-size="41" fill="#262626" font-family="'Liberation Sans', sans-serif" font-weight="bold" stroke="#fff" stroke-width="0.55">20</text>
<text x="1535.4" y="1752.6" text-anchor="end" font-size="41" fill="#262626" font-family="'Liberation Sans', sans-serif" font-weight="bold" stroke="#fff" stroke-width="0.55">0</text>
<text x="1535.4" y="1650.1" text-anchor="end" font-size="41" fill="#262626" font-family="'Liberation Sans', sans-serif" font-weight="bold" stroke="#fff" stroke-width="0.55">5</text>
<text x="1535.4" y="1547.6" text-anchor="end" font-size="41" fill="#262626" font-family="'Liberation Sans', sans-serif" font-weight="bold" stroke="#fff" stroke-width="0.55">10</text>
<text x="1535.4" y="1445.11" text-anchor="end" font-size="41" fill="#262626" font-family="'Liberation Sans', sans-serif" font-weight="bold" stroke="#fff" stroke-width="0.55">15</text>
<text x="1535.4" y="1342.61" text-anchor="end" font-size="41" fill="#262626" font-family="'Liberation Sans', sans-serif" font-weight="bold" stroke="#fff" stroke-width="0.55">20</text>
<text x="1761.2" y="1846.8" text-anchor="middle" font-size="45" fill="#262626" font-family="'Liberation Sans', sans-serif" font-weight="bold" stroke="#fff" stroke-width="0.55">X(μm)</text>
<text transform="translate(1473.6 1525.45) rotate(-90)" text-anchor="middle" font-size="45" fill="#262626" font-family="'Liberation Sans', sans-serif" font-weight="bold" stroke="#fff" stroke-width="0.55">Y(μm)</text>
<text x="1712.11" y="1299.6" font-size="58" fill="#000" font-family="'Liberation Sans', sans-serif" font-weight="bold" stroke="#fff" stroke-width="0.55">|E|</text>
<text x="1783.27" y="1269.8" font-size="45" fill="#000" font-family="'Liberation Sans', sans-serif" font-weight="bold" stroke="#fff" stroke-width="0.55">2</text>
<text x="1451.4" y="1255.2" font-size="77" fill="#000" font-family="'Liberation Serif', serif" font-weight="bold" stroke="#fff" stroke-width="0.8">(g)</text>
<g clip-path="url(#c7)" style="isolation:isolate">
<rect x="158.5" y="1944.3" width="569" height="423" fill="#00000e"/>
<ellipse class="b" cx="347.3" cy="2087" rx="9" ry="30" fill="url(#g44)"/>
<ellipse class="b" cx="345" cy="1985" rx="24" ry="75" fill="url(#g45)"/>
<ellipse class="b" cx="634" cy="2060" rx="66" ry="255" fill="url(#g46)"/>
<ellipse class="b" cx="633" cy="2040" rx="42" ry="225" fill="url(#g47)"/>
<ellipse class="b" cx="633" cy="2000" rx="25.5" ry="135" fill="url(#g48)"/>
<ellipse class="b" cx="630" cy="2250" rx="90" ry="84" fill="url(#g49)"/>
<ellipse class="b" cx="625" cy="2215" rx="72" ry="114" fill="url(#g46)"/>
<ellipse class="b" cx="612" cy="2190" rx="13.5" ry="72" fill="url(#g50)" transform="rotate(28 612 2190)"/>
<ellipse class="b" cx="600" cy="2215" rx="12" ry="66" fill="url(#g51)" transform="rotate(30 600 2215)"/>
<ellipse class="b" cx="640" cy="2175" rx="13.5" ry="66" fill="url(#g52)" transform="rotate(12 640 2175)"/>
<ellipse class="b" cx="655" cy="2200" rx="12" ry="66" fill="url(#g46)" transform="rotate(5 655 2200)"/>
<ellipse class="b" cx="628" cy="2235" rx="12" ry="60" fill="url(#g46)" transform="rotate(25 628 2235)"/>
<ellipse class="b" cx="631.6" cy="2049" rx="15.6" ry="90" fill="url(#g53)"/>
<ellipse class="b" cx="631.2" cy="2091" rx="16.2" ry="96" fill="url(#g54)"/>
<path d="M158.5 2077 H715.5" stroke="#fff" stroke-width="4.2" stroke-dasharray="16 15.8" fill="none"/>
</g>
<rect x="158.5" y="1944.3" width="569" height="423" fill="none" stroke="#3c3c3c" stroke-width="1.8"/>
<text x="158.5" y="2421.3" text-anchor="middle" font-size="41" fill="#262626" font-family="'Liberation Sans', sans-serif" font-weight="bold" stroke="#fff" stroke-width="0.55">0</text>
<text x="295.81" y="2421.3" text-anchor="middle" font-size="41" fill="#262626" font-family="'Liberation Sans', sans-serif" font-weight="bold" stroke="#fff" stroke-width="0.55">5</text>
<text x="433.11" y="2421.3" text-anchor="middle" font-size="41" fill="#262626" font-family="'Liberation Sans', sans-serif" font-weight="bold" stroke="#fff" stroke-width="0.55">10</text>
<text x="570.42" y="2421.3" text-anchor="middle" font-size="41" fill="#262626" font-family="'Liberation Sans', sans-serif" font-weight="bold" stroke="#fff" stroke-width="0.55">15</text>
<text x="707.73" y="2421.3" text-anchor="middle" font-size="41" fill="#262626" font-family="'Liberation Sans', sans-serif" font-weight="bold" stroke="#fff" stroke-width="0.55">20</text>
<text x="145.3" y="2383.1" text-anchor="end" font-size="41" fill="#262626" font-family="'Liberation Sans', sans-serif" font-weight="bold" stroke="#fff" stroke-width="0.55">0</text>
<text x="145.3" y="2242.1" text-anchor="end" font-size="41" fill="#262626" font-family="'Liberation Sans', sans-serif" font-weight="bold" stroke="#fff" stroke-width="0.55">5</text>
<text x="145.3" y="2101.1" text-anchor="end" font-size="41" fill="#262626" font-family="'Liberation Sans', sans-serif" font-weight="bold" stroke="#fff" stroke-width="0.55">10</text>
<text x="145.3" y="1960.1" text-anchor="end" font-size="41" fill="#262626" font-family="'Liberation Sans', sans-serif" font-weight="bold" stroke="#fff" stroke-width="0.55">15</text>
<text x="443" y="2477.3" text-anchor="middle" font-size="45" fill="#262626" font-family="'Liberation Sans', sans-serif" font-weight="bold" stroke="#fff" stroke-width="0.55">X(μm)</text>
<text transform="translate(83.5 2155.8) rotate(-90)" text-anchor="middle" font-size="45" fill="#262626" font-family="'Liberation Sans', sans-serif" font-weight="bold" stroke="#fff" stroke-width="0.55">Z(μm)</text>
<text x="393.91" y="1929.8" font-size="58" fill="#000" font-family="'Liberation Sans', sans-serif" font-weight="bold" stroke="#fff" stroke-width="0.55">|E|</text>
<text x="465.07" y="1900" font-size="45" fill="#000" font-family="'Liberation Sans', sans-serif" font-weight="bold" stroke="#fff" stroke-width="0.55">2</text>
<text x="75" y="1890.5" font-size="77" fill="#000" font-family="'Liberation Serif', serif" font-weight="bold" stroke="#fff" stroke-width="0.8">(h)</text>
<g clip-path="url(#c8)" style="isolation:isolate">
<rect x="856" y="1946.6" width="564.3" height="419.8" fill="#00000e"/>
<ellipse class="b" cx="1044.7" cy="1990" rx="12" ry="78" fill="url(#g47)"/>
<ellipse class="b" cx="1044" cy="2130" rx="36" ry="45" fill="url(#g44)"/>
<ellipse class="b" cx="1044.7" cy="2077" rx="27" ry="84" fill="url(#g55)"/>
<ellipse class="b" cx="1030" cy="2075" rx="9" ry="60" fill="url(#g46)"/>
<ellipse class="b" cx="1059" cy="2075" rx="9" ry="60" fill="url(#g46)"/>
<ellipse class="b" cx="1326.6" cy="2000" rx="24" ry="90" fill="url(#g56)" transform="rotate(-3 1326.6 2000)"/>
<ellipse class="b" cx="1293" cy="2154" rx="10.8" ry="60" fill="url(#g52)" transform="rotate(25 1293 2154)"/>
<ellipse class="b" cx="1345" cy="2090" rx="9" ry="75" fill="url(#g44)" transform="rotate(10 1345 2090)"/>
<ellipse class="b" cx="1338" cy="2115" rx="12" ry="120" fill="url(#g46)" transform="rotate(12 1338 2115)"/>
<ellipse class="b" cx="1312" cy="2170" rx="12" ry="90" fill="url(#g44)" transform="rotate(25 1312 2170)"/>
<ellipse class="b" cx="1322" cy="2080" rx="30" ry="150" fill="url(#g57)" transform="rotate(8 1322 2080)"/>
<rect x="1282" y="2330" width="2.2" height="6" fill="#00003c"/>
<rect x="1285" y="2341.5" width="2.2" height="6" fill="#00003c"/>
<rect x="1282" y="2353" width="2.2" height="6" fill="#00003c"/>
<rect x="1291.2" y="2330" width="2.2" height="6" fill="#00003c"/>
<rect x="1294.2" y="2341.5" width="2.2" height="6" fill="#00003c"/>
<rect x="1291.2" y="2353" width="2.2" height="6" fill="#00003c"/>
<rect x="1300.4" y="2330" width="2.2" height="6" fill="#00003c"/>
<rect x="1303.4" y="2341.5" width="2.2" height="6" fill="#00003c"/>
<rect x="1300.4" y="2353" width="2.2" height="6" fill="#00003c"/>
<rect x="1309.6" y="2330" width="2.2" height="6" fill="#00003c"/>
<rect x="1312.6" y="2341.5" width="2.2" height="6" fill="#00003c"/>
<rect x="1309.6" y="2353" width="2.2" height="6" fill="#00003c"/>
<rect x="1318.8" y="2330" width="2.2" height="6" fill="#00003c"/>
<rect x="1321.8" y="2341.5" width="2.2" height="6" fill="#00003c"/>
<rect x="1318.8" y="2353" width="2.2" height="6" fill="#00003c"/>
<rect x="1328" y="2330" width="2.2" height="6" fill="#00003c"/>
<rect x="1331" y="2341.5" width="2.2" height="6" fill="#00003c"/>
<rect x="1328" y="2353" width="2.2" height="6" fill="#00003c"/>
<rect x="1337.2" y="2330" width="2.2" height="6" fill="#00003c"/>
<rect x="1340.2" y="2341.5" width="2.2" height="6" fill="#00003c"/>
<rect x="1337.2" y="2353" width="2.2" height="6" fill="#00003c"/>
<rect x="1346.4" y="2330" width="2.2" height="6" fill="#00003c"/>
<rect x="1349.4" y="2341.5" width="2.2" height="6" fill="#00003c"/>
<rect x="1346.4" y="2353" width="2.2" height="6" fill="#00003c"/>
<rect x="1355.6" y="2330" width="2.2" height="6" fill="#00003c"/>
<rect x="1358.6" y="2341.5" width="2.2" height="6" fill="#00003c"/>
<rect x="1355.6" y="2353" width="2.2" height="6" fill="#00003c"/>
<rect x="1364.8" y="2330" width="2.2" height="6" fill="#00003c"/>
<rect x="1367.8" y="2341.5" width="2.2" height="6" fill="#00003c"/>
<rect x="1364.8" y="2353" width="2.2" height="6" fill="#00003c"/>
<ellipse class="b" cx="1044.7" cy="2077" rx="11.4" ry="45" fill="url(#g58)"/>
<path d="M856 2079.5 H1408.3" stroke="#fff" stroke-width="4.2" stroke-dasharray="16 15.8" fill="none"/>
</g>
<rect x="856" y="1946.6" width="564.3" height="419.8" fill="none" stroke="#3c3c3c" stroke-width="1.8"/>
<text x="856" y="2420.4" text-anchor="middle" font-size="41" fill="#262626" font-family="'Liberation Sans', sans-serif" font-weight="bold" stroke="#fff" stroke-width="0.55">0</text>
<text x="992.17" y="2420.4" text-anchor="middle" font-size="41" fill="#262626" font-family="'Liberation Sans', sans-serif" font-weight="bold" stroke="#fff" stroke-width="0.55">5</text>
<text x="1128.35" y="2420.4" text-anchor="middle" font-size="41" fill="#262626" font-family="'Liberation Sans', sans-serif" font-weight="bold" stroke="#fff" stroke-width="0.55">10</text>
<text x="1264.52" y="2420.4" text-anchor="middle" font-size="41" fill="#262626" font-family="'Liberation Sans', sans-serif" font-weight="bold" stroke="#fff" stroke-width="0.55">15</text>
<text x="1400.69" y="2420.4" text-anchor="middle" font-size="41" fill="#262626" font-family="'Liberation Sans', sans-serif" font-weight="bold" stroke="#fff" stroke-width="0.55">20</text>
<text x="842.8" y="2382.2" text-anchor="end" font-size="41" fill="#262626" font-family="'Liberation Sans', sans-serif" font-weight="bold" stroke="#fff" stroke-width="0.55">0</text>
<text x="842.8" y="2242.27" text-anchor="end" font-size="41" fill="#262626" font-family="'Liberation Sans', sans-serif" font-weight="bold" stroke="#fff" stroke-width="0.55">5</text>
<text x="842.8" y="2102.33" text-anchor="end" font-size="41" fill="#262626" font-family="'Liberation Sans', sans-serif" font-weight="bold" stroke="#fff" stroke-width="0.55">10</text>
<text x="842.8" y="1962.4" text-anchor="end" font-size="41" fill="#262626" font-family="'Liberation Sans', sans-serif" font-weight="bold" stroke="#fff" stroke-width="0.55">15</text>
<text x="1138.15" y="2476.4" text-anchor="middle" font-size="45" fill="#262626" font-family="'Liberation Sans', sans-serif" font-weight="bold" stroke="#fff" stroke-width="0.55">X(μm)</text>
<text transform="translate(781 2156.5) rotate(-90)" text-anchor="middle" font-size="45" fill="#262626" font-family="'Liberation Sans', sans-serif" font-weight="bold" stroke="#fff" stroke-width="0.55">Z(μm)</text>
<text x="1089.06" y="1932.1" font-size="58" fill="#000" font-family="'Liberation Sans', sans-serif" font-weight="bold" stroke="#fff" stroke-width="0.55">|E|</text>
<text x="1160.22" y="1902.3" font-size="45" fill="#000" font-family="'Liberation Sans', sans-serif" font-weight="bold" stroke="#fff" stroke-width="0.55">2</text>
<text x="761.4" y="1889.5" font-size="77" fill="#000" font-family="'Liberation Serif', serif" font-weight="bold" stroke="#fff" stroke-width="0.8">(i)</text>
<g clip-path="url(#c9)" style="isolation:isolate">
<rect x="1548.6" y="1950.3" width="425.2" height="423.5" fill="#00000e"/>
<ellipse class="b" cx="1580.6" cy="2122" rx="12" ry="12" fill="url(#g59)"/>
<ellipse class="b" cx="1802" cy="2122" rx="12" ry="12" fill="url(#g59)"/>
<ellipse class="b" cx="1580.6" cy="2343" rx="12" ry="12" fill="url(#g59)"/>
<ellipse class="b" cx="1802" cy="2343" rx="12" ry="12" fill="url(#g59)"/>
<ellipse class="b" cx="1691" cy="2002" rx="9" ry="9" fill="url(#g51)"/>
<ellipse class="b" cx="1902" cy="2040" rx="9" ry="9" fill="url(#g46)"/>
<ellipse class="b" cx="1902" cy="2221" rx="9" ry="9" fill="url(#g46)"/>
<ellipse class="b" cx="1902" cy="2246" rx="9" ry="9" fill="url(#g46)"/>
<path d="M1548.6 2020.8 L1682.1 2020.6 L1683.6 2020.35 L1684.6 2020.09 L1685.1 2019.93 L1685.6 2019.75 L1686.1 2019.55 L1686.6 2019.34 L1687.1 2019.12 L1687.6 2018.89 L1688.1 2018.67 L1688.6 2018.45 L1689.1 2018.26 L1689.6 2018.09 L1690.6 2017.86 L1693.1 2018.06 L1693.6 2018.22 L1694.1 2018.41 L1694.6 2018.62 L1695.1 2018.84 L1695.6 2019.07 L1696.1 2019.3 L1696.6 2019.51 L1697.1 2019.71 L1697.6 2019.9 L1698.1 2020.06 L1699.1 2020.33 L1700.1 2020.52 L1701.6 2020.68 L1876.6 2020.49 L1877.1 2020.37 L1877.6 2020.21 L1878.1 2020.01 L1878.6 2019.78 L1879.1 2019.51 L1879.6 2019.22 L1880.1 2018.92 L1880.6 2018.62 L1881.1 2018.35 L1881.6 2018.11 L1882.1 2017.93 L1884.1 2018 L1884.6 2018.2 L1885.1 2018.45 L1885.6 2018.74 L1886.1 2019.04 L1886.6 2019.34 L1887.1 2019.62 L1887.6 2019.87 L1888.1 2020.09 L1888.6 2020.27 L1889.6 2020.53 L1891.1 2020.72 L1892.1 2020.77 L1892.6 2019.88 L1893.1 2015.42 L1893.6 2011.06 L1894.1 2006.8 L1894.6 2002.65 L1895.1 1998.6 L1895.6 1994.68 L1896.1 1990.87 L1896.6 1987.19 L1897.1 1983.64 L1897.6 1980.24 L1898.1 1976.98 L1898.6 1973.89 L1899.1 1970.98 L1899.6 1968.26 L1900.1 1965.76 L1900.6 1963.51 L1901.1 1961.57 L1901.6 1960.03 L1902.1 1959.4 L1902.6 1960.59 L1903.1 1962.31 L1903.6 1964.38 L1904.1 1966.73 L1904.6 1969.32 L1905.1 1972.12 L1905.6 1975.11 L1906.1 1978.27 L1906.6 1981.58 L1907.1 1985.04 L1907.6 1988.64 L1908.1 1992.38 L1908.6 1996.23 L1909.1 2000.21 L1909.6 2004.3 L1910.1 2008.49 L1910.6 2012.79 L1911.1 2017.19 L1911.6 2020.78 L1914.1 2020.59 L1915.1 2020.37 L1915.6 2020.21 L1916.1 2020.01 L1916.6 2019.78 L1917.1 2019.51 L1917.6 2019.22 L1918.1 2018.92 L1918.6 2018.62 L1919.1 2018.35 L1919.6 2018.11 L1920.1 2017.93 L1922.1 2018 L1922.6 2018.2 L1923.1 2018.45 L1923.6 2018.74 L1924.1 2019.04 L1924.6 2019.34 L1925.1 2019.62 L1925.6 2019.87 L1926.1 2020.09 L1926.6 2020.27 L1927.6 2020.53 L1929.1 2020.72 L1973.6 2020.8" stroke="#00cfd8" stroke-width="2.6" fill="none" stroke-linejoin="round"/>
<path d="M1548.6 2232.2 L1683.1 2232.2 L1683.6 2230.23 L1684.1 2225.35 L1684.6 2220.55 L1685.1 2215.85 L1685.6 2211.24 L1686.1 2206.74 L1686.6 2202.34 L1687.1 2198.06 L1687.6 2193.91 L1688.1 2189.9 L1688.6 2186.05 L1689.1 2182.39 L1689.6 2178.93 L1690.1 2175.74 L1690.6 2172.9 L1691.1 2170.67 L1691.6 2171.91 L1692.1 2174.56 L1692.6 2177.62 L1693.1 2180.98 L1693.6 2184.56 L1694.1 2188.34 L1694.6 2192.29 L1695.1 2196.38 L1695.6 2200.61 L1696.1 2204.96 L1696.6 2209.43 L1697.1 2213.99 L1697.6 2218.66 L1698.1 2223.42 L1698.6 2228.26 L1699.1 2232.2 L1893.1 2232.02 L1894.1 2231.85 L1894.6 2231.72 L1895.1 2231.56 L1895.6 2231.35 L1896.1 2231.11 L1896.6 2230.83 L1897.1 2230.51 L1897.6 2230.16 L1898.1 2229.78 L1898.6 2229.39 L1899.1 2229.01 L1899.6 2228.64 L1900.1 2228.32 L1900.6 2228.05 L1901.1 2227.85 L1902.6 2227.77 L1903.1 2227.92 L1903.6 2228.15 L1904.1 2228.44 L1904.6 2228.78 L1905.1 2229.16 L1905.6 2229.54 L1906.1 2229.92 L1906.6 2230.28 L1907.1 2230.61 L1907.6 2230.89 L1908.1 2231.12 L1908.6 2231.3 L1909.6 2231.47 L1911.1 2231.26 L1911.6 2231.07 L1912.1 2230.84 L1912.6 2230.58 L1913.1 2230.29 L1913.6 2230 L1914.1 2229.73 L1914.6 2229.5 L1915.1 2229.33 L1917.1 2229.39 L1917.6 2229.6 L1918.1 2229.85 L1918.6 2230.14 L1919.1 2230.44 L1919.6 2230.74 L1920.1 2231.02 L1920.6 2231.27 L1921.1 2231.49 L1921.6 2231.67 L1922.6 2231.93 L1924.1 2232.12 L1973.6 2232.2" stroke="#00b0b8" stroke-width="3.2" fill="none" stroke-linejoin="round"/>
<ellipse class="b" cx="1902" cy="2021.5" rx="15" ry="15" fill="url(#g58)"/>
<ellipse class="b" cx="1690.9" cy="2233" rx="10.2" ry="10.8" fill="url(#g60)"/>
</g>
<rect x="1548.6" y="1950.3" width="425.2" height="423.5" fill="none" stroke="#3c3c3c" stroke-width="1.8"/>
<text x="1548.6" y="2427.8" text-anchor="middle" font-size="41" fill="#262626" font-family="'Liberation Sans', sans-serif" font-weight="bold" stroke="#fff" stroke-width="0.55">0</text>
<text x="1651.21" y="2427.8" text-anchor="middle" font-size="41" fill="#262626" font-family="'Liberation Sans', sans-serif" font-weight="bold" stroke="#fff" stroke-width="0.55">5</text>
<text x="1753.81" y="2427.8" text-anchor="middle" font-size="41" fill="#262626" font-family="'Liberation Sans', sans-serif" font-weight="bold" stroke="#fff" stroke-width="0.55">10</text>
<text x="1856.42" y="2427.8" text-anchor="middle" font-size="41" fill="#262626" font-family="'Liberation Sans', sans-serif" font-weight="bold" stroke="#fff" stroke-width="0.55">15</text>
<text x="1959.02" y="2427.8" text-anchor="middle" font-size="41" fill="#262626" font-family="'Liberation Sans', sans-serif" font-weight="bold" stroke="#fff" stroke-width="0.55">20</text>
<text x="1535.4" y="2389.6" text-anchor="end" font-size="41" fill="#262626" font-family="'Liberation Sans', sans-serif" font-weight="bold" stroke="#fff" stroke-width="0.55">0</text>
<text x="1535.4" y="2286.91" text-anchor="end" font-size="41" fill="#262626" font-family="'Liberation Sans', sans-serif" font-weight="bold" stroke="#fff" stroke-width="0.55">5</text>
<text x="1535.4" y="2184.22" text-anchor="end" font-size="41" fill="#262626" font-family="'Liberation Sans', sans-serif" font-weight="bold" stroke="#fff" stroke-width="0.55">10</text>
<text x="1535.4" y="2081.53" text-anchor="end" font-size="41" fill="#262626" font-family="'Liberation Sans', sans-serif" font-weight="bold" stroke="#fff" stroke-width="0.55">15</text>
<text x="1535.4" y="1978.83" text-anchor="end" font-size="41" fill="#262626" font-family="'Liberation Sans', sans-serif" font-weight="bold" stroke="#fff" stroke-width="0.55">20</text>
<text x="1761.2" y="2483.8" text-anchor="middle" font-size="45" fill="#262626" font-family="'Liberation Sans', sans-serif" font-weight="bold" stroke="#fff" stroke-width="0.55">X(μm)</text>
<text transform="translate(1473.6 2162.05) rotate(-90)" text-anchor="middle" font-size="45" fill="#262626" font-family="'Liberation Sans', sans-serif" font-weight="bold" stroke="#fff" stroke-width="0.55">Y(μm)</text>
<text x="1712.11" y="1935.8" font-size="58" fill="#000" font-family="'Liberation Sans', sans-serif" font-weight="bold" stroke="#fff" stroke-width="0.55">|E|</text>
<text x="1783.27" y="1906" font-size="45" fill="#000" font-family="'Liberation Sans', sans-serif" font-weight="bold" stroke="#fff" stroke-width="0.55">2</text>
<text x="1467.8" y="1887.2" font-size="77" fill="#000" font-family="'Liberation Serif', serif" font-weight="bold" stroke="#fff" stroke-width="0.8">(j)</text>
<rect x="1998.7" y="683.6" width="24" height="423.2" fill="url(#cb61)" stroke="#8c8c8c" stroke-width="1.6"/>
<path d="M2021.9 895.2 h-4" stroke="#444" stroke-width="1.5"/>
<text x="2034.2" y="698.8" font-size="37" fill="#262626" font-family="'Liberation Sans', sans-serif" font-weight="bold" stroke="#fff" stroke-width="0.2">100</text>
<text x="2034.2" y="910.4" font-size="37" fill="#262626" font-family="'Liberation Sans', sans-serif" font-weight="bold" stroke="#fff" stroke-width="0.2">50</text>
<text x="2034.2" y="1122" font-size="37" fill="#262626" font-family="'Liberation Sans', sans-serif" font-weight="bold" stroke="#fff" stroke-width="0.2">0</text>
<rect x="1998.3" y="1313.6" width="22" height="422.8" fill="url(#cb62)" stroke="#8c8c8c" stroke-width="1.6"/>
<path d="M2019.5 1525 h-4" stroke="#444" stroke-width="1.5"/>
<text x="2031.8" y="1328.8" font-size="37" fill="#262626" font-family="'Liberation Sans', sans-serif" font-weight="bold" stroke="#fff" stroke-width="0.2">200</text>
<text x="2031.8" y="1540.2" font-size="37" fill="#262626" font-family="'Liberation Sans', sans-serif" font-weight="bold" stroke="#fff" stroke-width="0.2">100</text>
<text x="2031.8" y="1751.6" font-size="37" fill="#262626" font-family="'Liberation Sans', sans-serif" font-weight="bold" stroke="#fff" stroke-width="0.2">0</text>
<rect x="1998.4" y="1949.9" width="21.8" height="423.6" fill="url(#cb63)" stroke="#8c8c8c" stroke-width="1.6"/>
<path d="M2019.4 2161.7 h-4" stroke="#444" stroke-width="1.5"/>
<text x="2031.7" y="1965.1" font-size="37" fill="#262626" font-family="'Liberation Sans', sans-serif" font-weight="bold" stroke="#fff" stroke-width="0.2">100</text>
<text x="2031.7" y="2176.9" font-size="37" fill="#262626" font-family="'Liberation Sans', sans-serif" font-weight="bold" stroke="#fff" stroke-width="0.2">50</text>
<text x="2031.7" y="2388.7" font-size="37" fill="#262626" font-family="'Liberation Sans', sans-serif" font-weight="bold" stroke="#fff" stroke-width="0.2">0</text>
</svg></body></html>
